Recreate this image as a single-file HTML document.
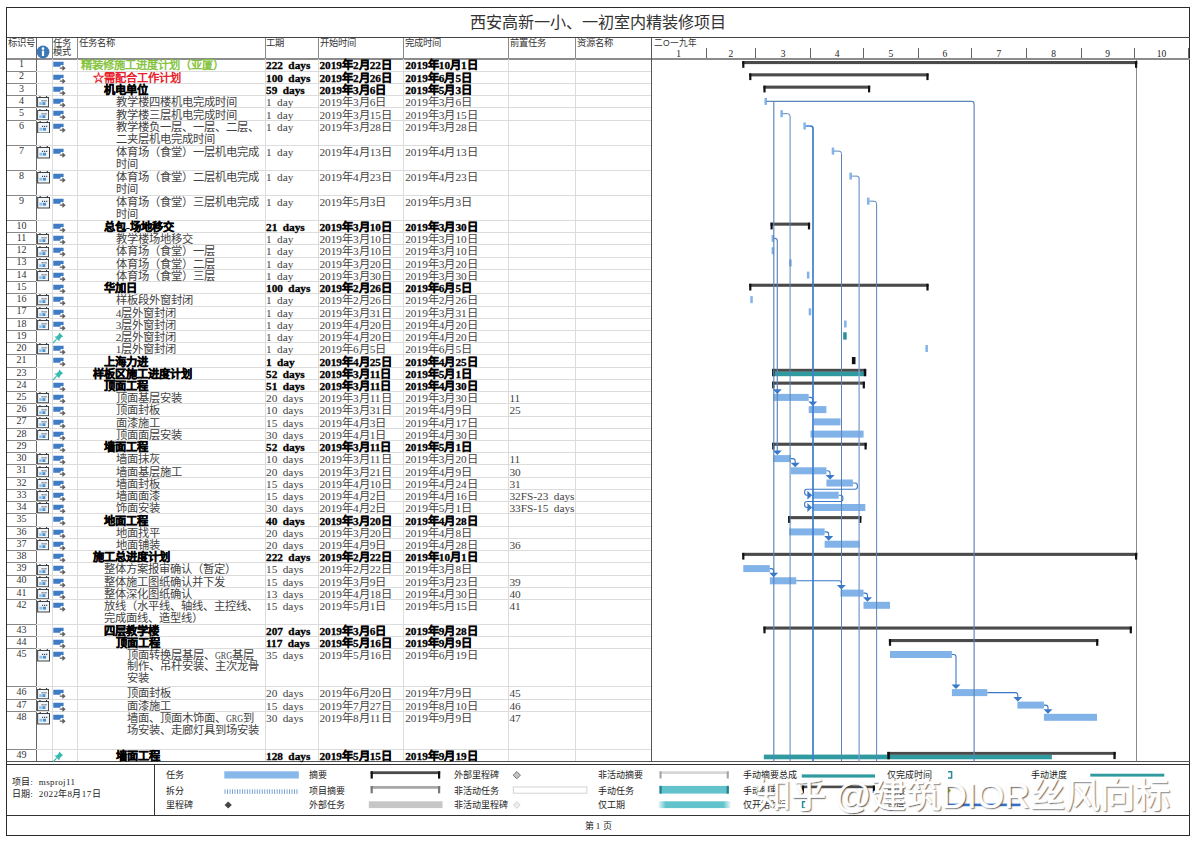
<!DOCTYPE html>
<html lang="zh-CN"><head><meta charset="utf-8"><title>西安高新一小、一初室内精装修项目</title>
<style>
html,body{margin:0;padding:0;background:#fff;}
body{width:1198px;height:845px;position:relative;overflow:hidden;font-family:"Liberation Serif",serif;color:#222;}
.a{position:absolute;}
.t{position:absolute;white-space:nowrap;font-size:11.3px;line-height:12.3px;color:#424242;word-spacing:2.6px;}
.cn{display:inline-block;width:17px;transform:scaleX(0.72);transform-origin:0 50%;}
.b{font-weight:bold;color:#000;-webkit-text-stroke:0.3px #000;}
.g{font-weight:bold;color:#86c440;}
.r{font-weight:bold;color:#e8202a;}
.h{position:absolute;white-space:nowrap;font-size:9.3px;line-height:9.2px;color:#333;}
.id{position:absolute;left:7px;width:29px;text-align:center;font-size:10px;line-height:12px;color:#333;}
.lg{position:absolute;white-space:nowrap;font-size:9px;line-height:10px;color:#222;}
.hl{position:absolute;background:#dcdcdc;height:1px;}
.vl{position:absolute;background:#dcdcdc;width:1px;}
</style></head><body>

<div class="a" style="left:5.7px;top:6.7px;width:1184.3999999999999px;height:828.9000000000001px;border:1.6px solid #2a2a2a;box-sizing:border-box;"></div>
<div class="a" style="left:0;width:1196px;top:14px;text-align:center;font-size:16.1px;line-height:18px;color:#333;">西安高新一小、一初室内精装修项目</div>
<div class="a" style="left:6.7px;top:37.0px;width:1183.8px;height:1.3px;background:#444;"></div>
<div class="a" style="left:6.7px;top:58.0px;width:1183.8px;height:1.5px;background:#8c8c8c;"></div>
<div class="a" style="left:6.7px;top:761.0px;width:1183.8px;height:1.2px;background:#555;"></div>
<div class="a" style="left:6.7px;top:764.0px;width:1183.8px;height:1.3px;background:#333;"></div>
<div class="a" style="left:6.7px;top:815.0px;width:1183.8px;height:1.3px;background:#333;"></div>
<div class="a" style="left:154.2px;top:764.6px;width:1.2px;height:51.0px;background:#333;"></div>
<div class="a" style="left:51.6px;top:37.6px;width:1px;height:21.199999999999996px;background:#8a8a8a;"></div>
<div class="vl" style="left:51.6px;top:58.8px;height:702.7px;"></div>
<div class="a" style="left:76.9px;top:37.6px;width:1px;height:21.199999999999996px;background:#8a8a8a;"></div>
<div class="vl" style="left:76.9px;top:58.8px;height:702.7px;"></div>
<div class="a" style="left:264.5px;top:37.6px;width:1px;height:21.199999999999996px;background:#8a8a8a;"></div>
<div class="vl" style="left:264.5px;top:58.8px;height:702.7px;"></div>
<div class="a" style="left:317.5px;top:37.6px;width:1px;height:21.199999999999996px;background:#8a8a8a;"></div>
<div class="vl" style="left:317.5px;top:58.8px;height:702.7px;"></div>
<div class="a" style="left:402.8px;top:37.6px;width:1px;height:21.199999999999996px;background:#8a8a8a;"></div>
<div class="vl" style="left:402.8px;top:58.8px;height:702.7px;"></div>
<div class="a" style="left:507.5px;top:37.6px;width:1px;height:21.199999999999996px;background:#8a8a8a;"></div>
<div class="vl" style="left:507.5px;top:58.8px;height:702.7px;"></div>
<div class="a" style="left:574.9px;top:37.6px;width:1px;height:21.199999999999996px;background:#8a8a8a;"></div>
<div class="vl" style="left:574.9px;top:58.8px;height:702.7px;"></div>
<div class="a" style="left:35.8px;top:37.6px;width:1.2px;height:723.9px;background:#666;"></div>
<div class="a" style="left:650.8px;top:37.6px;width:1.3px;height:723.9px;background:#555;"></div>
<div class="hl" style="left:36.4px;top:70.58px;width:615.0px;"></div>
<div class="a" style="left:6.7px;top:70.58px;width:29.7px;height:1px;background:#888;"></div>
<div class="hl" style="left:36.4px;top:82.86px;width:615.0px;"></div>
<div class="a" style="left:6.7px;top:82.86px;width:29.7px;height:1px;background:#888;"></div>
<div class="hl" style="left:36.4px;top:95.14px;width:615.0px;"></div>
<div class="a" style="left:6.7px;top:95.14px;width:29.7px;height:1px;background:#888;"></div>
<div class="hl" style="left:36.4px;top:107.42px;width:615.0px;"></div>
<div class="a" style="left:6.7px;top:107.42px;width:29.7px;height:1px;background:#888;"></div>
<div class="hl" style="left:36.4px;top:119.70px;width:615.0px;"></div>
<div class="a" style="left:6.7px;top:119.70px;width:29.7px;height:1px;background:#888;"></div>
<div class="hl" style="left:36.4px;top:144.75px;width:615.0px;"></div>
<div class="a" style="left:6.7px;top:144.75px;width:29.7px;height:1px;background:#888;"></div>
<div class="hl" style="left:36.4px;top:169.80px;width:615.0px;"></div>
<div class="a" style="left:6.7px;top:169.80px;width:29.7px;height:1px;background:#888;"></div>
<div class="hl" style="left:36.4px;top:194.85px;width:615.0px;"></div>
<div class="a" style="left:6.7px;top:194.85px;width:29.7px;height:1px;background:#888;"></div>
<div class="hl" style="left:36.4px;top:219.90px;width:615.0px;"></div>
<div class="a" style="left:6.7px;top:219.90px;width:29.7px;height:1px;background:#888;"></div>
<div class="hl" style="left:36.4px;top:232.13px;width:615.0px;"></div>
<div class="a" style="left:6.7px;top:232.13px;width:29.7px;height:1px;background:#888;"></div>
<div class="hl" style="left:36.4px;top:244.36px;width:615.0px;"></div>
<div class="a" style="left:6.7px;top:244.36px;width:29.7px;height:1px;background:#888;"></div>
<div class="hl" style="left:36.4px;top:256.59px;width:615.0px;"></div>
<div class="a" style="left:6.7px;top:256.59px;width:29.7px;height:1px;background:#888;"></div>
<div class="hl" style="left:36.4px;top:268.82px;width:615.0px;"></div>
<div class="a" style="left:6.7px;top:268.82px;width:29.7px;height:1px;background:#888;"></div>
<div class="hl" style="left:36.4px;top:281.05px;width:615.0px;"></div>
<div class="a" style="left:6.7px;top:281.05px;width:29.7px;height:1px;background:#888;"></div>
<div class="hl" style="left:36.4px;top:293.27px;width:615.0px;"></div>
<div class="a" style="left:6.7px;top:293.27px;width:29.7px;height:1px;background:#888;"></div>
<div class="hl" style="left:36.4px;top:305.50px;width:615.0px;"></div>
<div class="a" style="left:6.7px;top:305.50px;width:29.7px;height:1px;background:#888;"></div>
<div class="hl" style="left:36.4px;top:317.73px;width:615.0px;"></div>
<div class="a" style="left:6.7px;top:317.73px;width:29.7px;height:1px;background:#888;"></div>
<div class="hl" style="left:36.4px;top:329.96px;width:615.0px;"></div>
<div class="a" style="left:6.7px;top:329.96px;width:29.7px;height:1px;background:#888;"></div>
<div class="hl" style="left:36.4px;top:342.19px;width:615.0px;"></div>
<div class="a" style="left:6.7px;top:342.19px;width:29.7px;height:1px;background:#888;"></div>
<div class="hl" style="left:36.4px;top:354.42px;width:615.0px;"></div>
<div class="a" style="left:6.7px;top:354.42px;width:29.7px;height:1px;background:#888;"></div>
<div class="hl" style="left:36.4px;top:366.65px;width:615.0px;"></div>
<div class="a" style="left:6.7px;top:366.65px;width:29.7px;height:1px;background:#888;"></div>
<div class="hl" style="left:36.4px;top:378.88px;width:615.0px;"></div>
<div class="a" style="left:6.7px;top:378.88px;width:29.7px;height:1px;background:#888;"></div>
<div class="hl" style="left:36.4px;top:391.11px;width:615.0px;"></div>
<div class="a" style="left:6.7px;top:391.11px;width:29.7px;height:1px;background:#888;"></div>
<div class="hl" style="left:36.4px;top:403.34px;width:615.0px;"></div>
<div class="a" style="left:6.7px;top:403.34px;width:29.7px;height:1px;background:#888;"></div>
<div class="hl" style="left:36.4px;top:415.56px;width:615.0px;"></div>
<div class="a" style="left:6.7px;top:415.56px;width:29.7px;height:1px;background:#888;"></div>
<div class="hl" style="left:36.4px;top:427.79px;width:615.0px;"></div>
<div class="a" style="left:6.7px;top:427.79px;width:29.7px;height:1px;background:#888;"></div>
<div class="hl" style="left:36.4px;top:440.02px;width:615.0px;"></div>
<div class="a" style="left:6.7px;top:440.02px;width:29.7px;height:1px;background:#888;"></div>
<div class="hl" style="left:36.4px;top:452.25px;width:615.0px;"></div>
<div class="a" style="left:6.7px;top:452.25px;width:29.7px;height:1px;background:#888;"></div>
<div class="hl" style="left:36.4px;top:464.48px;width:615.0px;"></div>
<div class="a" style="left:6.7px;top:464.48px;width:29.7px;height:1px;background:#888;"></div>
<div class="hl" style="left:36.4px;top:476.71px;width:615.0px;"></div>
<div class="a" style="left:6.7px;top:476.71px;width:29.7px;height:1px;background:#888;"></div>
<div class="hl" style="left:36.4px;top:488.94px;width:615.0px;"></div>
<div class="a" style="left:6.7px;top:488.94px;width:29.7px;height:1px;background:#888;"></div>
<div class="hl" style="left:36.4px;top:501.17px;width:615.0px;"></div>
<div class="a" style="left:6.7px;top:501.17px;width:29.7px;height:1px;background:#888;"></div>
<div class="hl" style="left:36.4px;top:513.40px;width:615.0px;"></div>
<div class="a" style="left:6.7px;top:513.40px;width:29.7px;height:1px;background:#888;"></div>
<div class="hl" style="left:36.4px;top:525.63px;width:615.0px;"></div>
<div class="a" style="left:6.7px;top:525.63px;width:29.7px;height:1px;background:#888;"></div>
<div class="hl" style="left:36.4px;top:537.85px;width:615.0px;"></div>
<div class="a" style="left:6.7px;top:537.85px;width:29.7px;height:1px;background:#888;"></div>
<div class="hl" style="left:36.4px;top:550.08px;width:615.0px;"></div>
<div class="a" style="left:6.7px;top:550.08px;width:29.7px;height:1px;background:#888;"></div>
<div class="hl" style="left:36.4px;top:562.31px;width:615.0px;"></div>
<div class="a" style="left:6.7px;top:562.31px;width:29.7px;height:1px;background:#888;"></div>
<div class="hl" style="left:36.4px;top:574.54px;width:615.0px;"></div>
<div class="a" style="left:6.7px;top:574.54px;width:29.7px;height:1px;background:#888;"></div>
<div class="hl" style="left:36.4px;top:586.77px;width:615.0px;"></div>
<div class="a" style="left:6.7px;top:586.77px;width:29.7px;height:1px;background:#888;"></div>
<div class="hl" style="left:36.4px;top:599.00px;width:615.0px;"></div>
<div class="a" style="left:6.7px;top:599.00px;width:29.7px;height:1px;background:#888;"></div>
<div class="hl" style="left:36.4px;top:623.80px;width:615.0px;"></div>
<div class="a" style="left:6.7px;top:623.80px;width:29.7px;height:1px;background:#888;"></div>
<div class="hl" style="left:36.4px;top:636.30px;width:615.0px;"></div>
<div class="a" style="left:6.7px;top:636.30px;width:29.7px;height:1px;background:#888;"></div>
<div class="hl" style="left:36.4px;top:648.25px;width:615.0px;"></div>
<div class="a" style="left:6.7px;top:648.25px;width:29.7px;height:1px;background:#888;"></div>
<div class="hl" style="left:36.4px;top:686.30px;width:615.0px;"></div>
<div class="a" style="left:6.7px;top:686.30px;width:29.7px;height:1px;background:#888;"></div>
<div class="hl" style="left:36.4px;top:698.80px;width:615.0px;"></div>
<div class="a" style="left:6.7px;top:698.80px;width:29.7px;height:1px;background:#888;"></div>
<div class="hl" style="left:36.4px;top:711.00px;width:615.0px;"></div>
<div class="a" style="left:6.7px;top:711.00px;width:29.7px;height:1px;background:#888;"></div>
<div class="hl" style="left:36.4px;top:748.80px;width:615.0px;"></div>
<div class="a" style="left:6.7px;top:748.80px;width:29.7px;height:1px;background:#888;"></div>
<div class="h" style="left:7.5px;top:39px;">标识号</div>
<div class="h" style="left:53px;top:39px;">任务<br>模式</div>
<div class="h" style="left:78.5px;top:39px;">任务名称</div>
<div class="h" style="left:266px;top:39px;">工期</div>
<div class="h" style="left:319.5px;top:39px;">开始时间</div>
<div class="h" style="left:404.8px;top:39px;">完成时间</div>
<div class="h" style="left:509.5px;top:39px;">前置任务</div>
<div class="h" style="left:577px;top:39px;">资源名称</div>
<div class="h" style="left:654px;top:38.5px;font-size:8.6px;font-family:'Liberation Sans',sans-serif;">二O一九年</div>
<svg class="a" style="left:36.2px;top:44.6px;" width="14" height="14" viewBox="0 0 14 14"><circle cx="7" cy="7" r="6.4" fill="#3b78b5"/><circle cx="7" cy="3.6" r="1.3" fill="#fff"/><rect x="5.9" y="5.6" width="2.2" height="5.4" fill="#fff"/></svg>
<div class="a" style="left:705.6px;top:48.3px;width:1px;height:10px;background:#666;"></div>
<div class="a" style="left:755.1px;top:48.3px;width:1px;height:10px;background:#666;"></div>
<div class="a" style="left:810.0px;top:48.3px;width:1px;height:10px;background:#666;"></div>
<div class="a" style="left:863.0px;top:48.3px;width:1px;height:10px;background:#666;"></div>
<div class="a" style="left:917.8px;top:48.3px;width:1px;height:10px;background:#666;"></div>
<div class="a" style="left:970.9px;top:48.3px;width:1px;height:10px;background:#666;"></div>
<div class="a" style="left:1025.7px;top:48.3px;width:1px;height:10px;background:#666;"></div>
<div class="a" style="left:1080.5px;top:48.3px;width:1px;height:10px;background:#666;"></div>
<div class="a" style="left:1133.6px;top:48.3px;width:1px;height:10px;background:#666;"></div>
<div class="a" style="left:1188.4px;top:48.3px;width:1px;height:10px;background:#666;"></div>
<div class="a" style="left:668.7px;top:48.5px;width:20px;text-align:center;font-size:9.5px;line-height:10px;color:#222;">1</div>
<div class="a" style="left:720.9px;top:48.5px;width:20px;text-align:center;font-size:9.5px;line-height:10px;color:#222;">2</div>
<div class="a" style="left:773.0px;top:48.5px;width:20px;text-align:center;font-size:9.5px;line-height:10px;color:#222;">3</div>
<div class="a" style="left:827.0px;top:48.5px;width:20px;text-align:center;font-size:9.5px;line-height:10px;color:#222;">4</div>
<div class="a" style="left:880.9px;top:48.5px;width:20px;text-align:center;font-size:9.5px;line-height:10px;color:#222;">5</div>
<div class="a" style="left:934.9px;top:48.5px;width:20px;text-align:center;font-size:9.5px;line-height:10px;color:#222;">6</div>
<div class="a" style="left:988.8px;top:48.5px;width:20px;text-align:center;font-size:9.5px;line-height:10px;color:#222;">7</div>
<div class="a" style="left:1043.6px;top:48.5px;width:20px;text-align:center;font-size:9.5px;line-height:10px;color:#222;">8</div>
<div class="a" style="left:1097.5px;top:48.5px;width:20px;text-align:center;font-size:9.5px;line-height:10px;color:#222;">9</div>
<div class="a" style="left:1151.5px;top:48.5px;width:20px;text-align:center;font-size:9.5px;line-height:10px;color:#222;">10</div>
<div class="id" style="top:58.20px;">1</div>
<svg class="a" style="left:52.8px;top:61.30px;" width="13" height="10" viewBox="0 0 13 10"><path d="M0.3 0.8 H10.6 V4 H8 L7 5.8 H0.3 Z" fill="#3f7cc4"/><path d="M6.8 6.6 H9.4 V4.3 L12.6 7.2 L9.4 10 V7.8 H6.8 Z" fill="#5e5e5e"/></svg>
<div class="t g" style="left:81px;top:59.40px;">精装修施工进度计划（亚厦）</div>
<div class="t b" style="left:266px;top:59.40px;">222 days</div>
<div class="t b" style="left:319.4px;top:59.40px;">2019年2月22日</div>
<div class="t b" style="left:405.2px;top:59.40px;">2019年10月1日</div>
<div class="id" style="top:70.48px;">2</div>
<svg class="a" style="left:52.8px;top:73.58px;" width="13" height="10" viewBox="0 0 13 10"><path d="M0.3 0.8 H10.6 V4 H8 L7 5.8 H0.3 Z" fill="#3f7cc4"/><path d="M6.8 6.6 H9.4 V4.3 L12.6 7.2 L9.4 10 V7.8 H6.8 Z" fill="#5e5e5e"/></svg>
<div class="t r" style="left:92.5px;top:71.68px;">☆需配合工作计划</div>
<div class="t b" style="left:266px;top:71.68px;">100 days</div>
<div class="t b" style="left:319.4px;top:71.68px;">2019年2月26日</div>
<div class="t b" style="left:405.2px;top:71.68px;">2019年6月5日</div>
<div class="id" style="top:82.76px;">3</div>
<svg class="a" style="left:52.8px;top:85.86px;" width="13" height="10" viewBox="0 0 13 10"><path d="M0.3 0.8 H10.6 V4 H8 L7 5.8 H0.3 Z" fill="#3f7cc4"/><path d="M6.8 6.6 H9.4 V4.3 L12.6 7.2 L9.4 10 V7.8 H6.8 Z" fill="#5e5e5e"/></svg>
<div class="t b" style="left:104px;top:83.96px;">机电单位</div>
<div class="t b" style="left:266px;top:83.96px;">59 days</div>
<div class="t b" style="left:319.4px;top:83.96px;">2019年3月6日</div>
<div class="t b" style="left:405.2px;top:83.96px;">2019年5月3日</div>
<div class="id" style="top:95.04px;">4</div>
<svg class="a" style="left:36.8px;top:96.34px;" width="12.4" height="11.4" viewBox="0 0 12.4 11.4" preserveAspectRatio="none"><rect x="0.6" y="1.5" width="11" height="9.3" fill="#eef6fc" stroke="#3a3a3a" stroke-width="0.95"/><rect x="2.4" y="0" width="1.1" height="2" fill="#3a3a3a"/><rect x="9" y="0" width="1.1" height="2" fill="#3a3a3a"/><rect x="4.6" y="4.3" width="1.1" height="1.1" fill="#334"/><rect x="6.5" y="4.3" width="1.1" height="1.1" fill="#334"/><rect x="8.4" y="4.3" width="1.1" height="1.1" fill="#334"/><rect x="2.2" y="6.2" width="2.6" height="2.8" fill="#8fc0e6"/><rect x="5.4" y="6.2" width="3" height="2.8" fill="#4a8fd0"/></svg>
<svg class="a" style="left:52.8px;top:98.14px;" width="13" height="10" viewBox="0 0 13 10"><path d="M0.3 0.8 H10.6 V4 H8 L7 5.8 H0.3 Z" fill="#3f7cc4"/><path d="M6.8 6.6 H9.4 V4.3 L12.6 7.2 L9.4 10 V7.8 H6.8 Z" fill="#5e5e5e"/></svg>
<div class="t" style="left:115.7px;top:96.24px;">教学楼四楼机电完成时间</div>
<div class="t" style="left:266px;top:96.24px;">1 day</div>
<div class="t" style="left:319.4px;top:96.24px;">2019年3月6日</div>
<div class="t" style="left:405.2px;top:96.24px;">2019年3月6日</div>
<div class="id" style="top:107.32px;">5</div>
<svg class="a" style="left:36.8px;top:108.62px;" width="12.4" height="11.4" viewBox="0 0 12.4 11.4" preserveAspectRatio="none"><rect x="0.6" y="1.5" width="11" height="9.3" fill="#eef6fc" stroke="#3a3a3a" stroke-width="0.95"/><rect x="2.4" y="0" width="1.1" height="2" fill="#3a3a3a"/><rect x="9" y="0" width="1.1" height="2" fill="#3a3a3a"/><rect x="4.6" y="4.3" width="1.1" height="1.1" fill="#334"/><rect x="6.5" y="4.3" width="1.1" height="1.1" fill="#334"/><rect x="8.4" y="4.3" width="1.1" height="1.1" fill="#334"/><rect x="2.2" y="6.2" width="2.6" height="2.8" fill="#8fc0e6"/><rect x="5.4" y="6.2" width="3" height="2.8" fill="#4a8fd0"/></svg>
<svg class="a" style="left:52.8px;top:110.42px;" width="13" height="10" viewBox="0 0 13 10"><path d="M0.3 0.8 H10.6 V4 H8 L7 5.8 H0.3 Z" fill="#3f7cc4"/><path d="M6.8 6.6 H9.4 V4.3 L12.6 7.2 L9.4 10 V7.8 H6.8 Z" fill="#5e5e5e"/></svg>
<div class="t" style="left:115.7px;top:108.52px;">教学楼三层机电完成时间</div>
<div class="t" style="left:266px;top:108.52px;">1 day</div>
<div class="t" style="left:319.4px;top:108.52px;">2019年3月15日</div>
<div class="t" style="left:405.2px;top:108.52px;">2019年3月15日</div>
<div class="id" style="top:119.60px;">6</div>
<svg class="a" style="left:36.8px;top:120.90px;" width="13.4" height="12.6" viewBox="0 0 12.4 12.6" preserveAspectRatio="none"><rect x="0.6" y="1.5" width="11" height="10.5" fill="#eef6fc" stroke="#3a3a3a" stroke-width="0.95"/><rect x="2.4" y="0" width="1.1" height="2" fill="#3a3a3a"/><rect x="9" y="0" width="1.1" height="2" fill="#3a3a3a"/><rect x="4.6" y="4.8" width="1.1" height="1.1" fill="#334"/><rect x="6.5" y="4.8" width="1.1" height="1.1" fill="#334"/><rect x="8.4" y="4.8" width="1.1" height="1.1" fill="#334"/><rect x="2.2" y="6.8" width="2.6" height="2.8" fill="#8fc0e6"/><rect x="5.4" y="6.8" width="3" height="2.8" fill="#4a8fd0"/></svg>
<svg class="a" style="left:52.8px;top:122.70px;" width="13" height="10" viewBox="0 0 13 10"><path d="M0.3 0.8 H10.6 V4 H8 L7 5.8 H0.3 Z" fill="#3f7cc4"/><path d="M6.8 6.6 H9.4 V4.3 L12.6 7.2 L9.4 10 V7.8 H6.8 Z" fill="#5e5e5e"/></svg>
<div class="t" style="left:115.7px;top:120.80px;">教学楼负一层、一层、二层、<br>二夹层机电完成时间</div>
<div class="t" style="left:266px;top:120.80px;">1 day</div>
<div class="t" style="left:319.4px;top:120.80px;">2019年3月28日</div>
<div class="t" style="left:405.2px;top:120.80px;">2019年3月28日</div>
<div class="id" style="top:144.65px;">7</div>
<svg class="a" style="left:36.8px;top:145.95px;" width="13.4" height="12.6" viewBox="0 0 12.4 12.6" preserveAspectRatio="none"><rect x="0.6" y="1.5" width="11" height="10.5" fill="#eef6fc" stroke="#3a3a3a" stroke-width="0.95"/><rect x="2.4" y="0" width="1.1" height="2" fill="#3a3a3a"/><rect x="9" y="0" width="1.1" height="2" fill="#3a3a3a"/><rect x="4.6" y="4.8" width="1.1" height="1.1" fill="#334"/><rect x="6.5" y="4.8" width="1.1" height="1.1" fill="#334"/><rect x="8.4" y="4.8" width="1.1" height="1.1" fill="#334"/><rect x="2.2" y="6.8" width="2.6" height="2.8" fill="#8fc0e6"/><rect x="5.4" y="6.8" width="3" height="2.8" fill="#4a8fd0"/></svg>
<svg class="a" style="left:52.8px;top:147.75px;" width="13" height="10" viewBox="0 0 13 10"><path d="M0.3 0.8 H10.6 V4 H8 L7 5.8 H0.3 Z" fill="#3f7cc4"/><path d="M6.8 6.6 H9.4 V4.3 L12.6 7.2 L9.4 10 V7.8 H6.8 Z" fill="#5e5e5e"/></svg>
<div class="t" style="left:115.7px;top:145.85px;">体育场（食堂）一层机电完成<br>时间</div>
<div class="t" style="left:266px;top:145.85px;">1 day</div>
<div class="t" style="left:319.4px;top:145.85px;">2019年4月13日</div>
<div class="t" style="left:405.2px;top:145.85px;">2019年4月13日</div>
<div class="id" style="top:169.70px;">8</div>
<svg class="a" style="left:36.8px;top:171.00px;" width="13.4" height="12.6" viewBox="0 0 12.4 12.6" preserveAspectRatio="none"><rect x="0.6" y="1.5" width="11" height="10.5" fill="#eef6fc" stroke="#3a3a3a" stroke-width="0.95"/><rect x="2.4" y="0" width="1.1" height="2" fill="#3a3a3a"/><rect x="9" y="0" width="1.1" height="2" fill="#3a3a3a"/><rect x="4.6" y="4.8" width="1.1" height="1.1" fill="#334"/><rect x="6.5" y="4.8" width="1.1" height="1.1" fill="#334"/><rect x="8.4" y="4.8" width="1.1" height="1.1" fill="#334"/><rect x="2.2" y="6.8" width="2.6" height="2.8" fill="#8fc0e6"/><rect x="5.4" y="6.8" width="3" height="2.8" fill="#4a8fd0"/></svg>
<svg class="a" style="left:52.8px;top:172.80px;" width="13" height="10" viewBox="0 0 13 10"><path d="M0.3 0.8 H10.6 V4 H8 L7 5.8 H0.3 Z" fill="#3f7cc4"/><path d="M6.8 6.6 H9.4 V4.3 L12.6 7.2 L9.4 10 V7.8 H6.8 Z" fill="#5e5e5e"/></svg>
<div class="t" style="left:115.7px;top:170.90px;">体育场（食堂）二层机电完成<br>时间</div>
<div class="t" style="left:266px;top:170.90px;">1 day</div>
<div class="t" style="left:319.4px;top:170.90px;">2019年4月23日</div>
<div class="t" style="left:405.2px;top:170.90px;">2019年4月23日</div>
<div class="id" style="top:194.75px;">9</div>
<svg class="a" style="left:36.8px;top:196.05px;" width="13.4" height="12.6" viewBox="0 0 12.4 12.6" preserveAspectRatio="none"><rect x="0.6" y="1.5" width="11" height="10.5" fill="#eef6fc" stroke="#3a3a3a" stroke-width="0.95"/><rect x="2.4" y="0" width="1.1" height="2" fill="#3a3a3a"/><rect x="9" y="0" width="1.1" height="2" fill="#3a3a3a"/><rect x="4.6" y="4.8" width="1.1" height="1.1" fill="#334"/><rect x="6.5" y="4.8" width="1.1" height="1.1" fill="#334"/><rect x="8.4" y="4.8" width="1.1" height="1.1" fill="#334"/><rect x="2.2" y="6.8" width="2.6" height="2.8" fill="#8fc0e6"/><rect x="5.4" y="6.8" width="3" height="2.8" fill="#4a8fd0"/></svg>
<svg class="a" style="left:52.8px;top:197.85px;" width="13" height="10" viewBox="0 0 13 10"><path d="M0.3 0.8 H10.6 V4 H8 L7 5.8 H0.3 Z" fill="#3f7cc4"/><path d="M6.8 6.6 H9.4 V4.3 L12.6 7.2 L9.4 10 V7.8 H6.8 Z" fill="#5e5e5e"/></svg>
<div class="t" style="left:115.7px;top:195.95px;">体育场（食堂）三层机电完成<br>时间</div>
<div class="t" style="left:266px;top:195.95px;">1 day</div>
<div class="t" style="left:319.4px;top:195.95px;">2019年5月3日</div>
<div class="t" style="left:405.2px;top:195.95px;">2019年5月3日</div>
<div class="id" style="top:219.80px;">10</div>
<svg class="a" style="left:52.8px;top:222.90px;" width="13" height="10" viewBox="0 0 13 10"><path d="M0.3 0.8 H10.6 V4 H8 L7 5.8 H0.3 Z" fill="#3f7cc4"/><path d="M6.8 6.6 H9.4 V4.3 L12.6 7.2 L9.4 10 V7.8 H6.8 Z" fill="#5e5e5e"/></svg>
<div class="t b" style="left:104px;top:221.00px;">总包-场地移交</div>
<div class="t b" style="left:266px;top:221.00px;">21 days</div>
<div class="t b" style="left:319.4px;top:221.00px;">2019年3月10日</div>
<div class="t b" style="left:405.2px;top:221.00px;">2019年3月30日</div>
<div class="id" style="top:232.03px;">11</div>
<svg class="a" style="left:36.8px;top:233.33px;" width="12.4" height="11.4" viewBox="0 0 12.4 11.4" preserveAspectRatio="none"><rect x="0.6" y="1.5" width="11" height="9.3" fill="#eef6fc" stroke="#3a3a3a" stroke-width="0.95"/><rect x="2.4" y="0" width="1.1" height="2" fill="#3a3a3a"/><rect x="9" y="0" width="1.1" height="2" fill="#3a3a3a"/><rect x="4.6" y="4.3" width="1.1" height="1.1" fill="#334"/><rect x="6.5" y="4.3" width="1.1" height="1.1" fill="#334"/><rect x="8.4" y="4.3" width="1.1" height="1.1" fill="#334"/><rect x="2.2" y="6.2" width="2.6" height="2.8" fill="#8fc0e6"/><rect x="5.4" y="6.2" width="3" height="2.8" fill="#4a8fd0"/></svg>
<svg class="a" style="left:52.8px;top:235.13px;" width="13" height="10" viewBox="0 0 13 10"><path d="M0.3 0.8 H10.6 V4 H8 L7 5.8 H0.3 Z" fill="#3f7cc4"/><path d="M6.8 6.6 H9.4 V4.3 L12.6 7.2 L9.4 10 V7.8 H6.8 Z" fill="#5e5e5e"/></svg>
<div class="t" style="left:115.7px;top:233.23px;">教学楼场地移交</div>
<div class="t" style="left:266px;top:233.23px;">1 day</div>
<div class="t" style="left:319.4px;top:233.23px;">2019年3月10日</div>
<div class="t" style="left:405.2px;top:233.23px;">2019年3月10日</div>
<div class="id" style="top:244.26px;">12</div>
<svg class="a" style="left:36.8px;top:245.56px;" width="12.4" height="11.4" viewBox="0 0 12.4 11.4" preserveAspectRatio="none"><rect x="0.6" y="1.5" width="11" height="9.3" fill="#eef6fc" stroke="#3a3a3a" stroke-width="0.95"/><rect x="2.4" y="0" width="1.1" height="2" fill="#3a3a3a"/><rect x="9" y="0" width="1.1" height="2" fill="#3a3a3a"/><rect x="4.6" y="4.3" width="1.1" height="1.1" fill="#334"/><rect x="6.5" y="4.3" width="1.1" height="1.1" fill="#334"/><rect x="8.4" y="4.3" width="1.1" height="1.1" fill="#334"/><rect x="2.2" y="6.2" width="2.6" height="2.8" fill="#8fc0e6"/><rect x="5.4" y="6.2" width="3" height="2.8" fill="#4a8fd0"/></svg>
<svg class="a" style="left:52.8px;top:247.36px;" width="13" height="10" viewBox="0 0 13 10"><path d="M0.3 0.8 H10.6 V4 H8 L7 5.8 H0.3 Z" fill="#3f7cc4"/><path d="M6.8 6.6 H9.4 V4.3 L12.6 7.2 L9.4 10 V7.8 H6.8 Z" fill="#5e5e5e"/></svg>
<div class="t" style="left:115.7px;top:245.46px;">体育场（食堂）一层</div>
<div class="t" style="left:266px;top:245.46px;">1 day</div>
<div class="t" style="left:319.4px;top:245.46px;">2019年3月10日</div>
<div class="t" style="left:405.2px;top:245.46px;">2019年3月10日</div>
<div class="id" style="top:256.49px;">13</div>
<svg class="a" style="left:36.8px;top:257.79px;" width="12.4" height="11.4" viewBox="0 0 12.4 11.4" preserveAspectRatio="none"><rect x="0.6" y="1.5" width="11" height="9.3" fill="#eef6fc" stroke="#3a3a3a" stroke-width="0.95"/><rect x="2.4" y="0" width="1.1" height="2" fill="#3a3a3a"/><rect x="9" y="0" width="1.1" height="2" fill="#3a3a3a"/><rect x="4.6" y="4.3" width="1.1" height="1.1" fill="#334"/><rect x="6.5" y="4.3" width="1.1" height="1.1" fill="#334"/><rect x="8.4" y="4.3" width="1.1" height="1.1" fill="#334"/><rect x="2.2" y="6.2" width="2.6" height="2.8" fill="#8fc0e6"/><rect x="5.4" y="6.2" width="3" height="2.8" fill="#4a8fd0"/></svg>
<svg class="a" style="left:52.8px;top:259.59px;" width="13" height="10" viewBox="0 0 13 10"><path d="M0.3 0.8 H10.6 V4 H8 L7 5.8 H0.3 Z" fill="#3f7cc4"/><path d="M6.8 6.6 H9.4 V4.3 L12.6 7.2 L9.4 10 V7.8 H6.8 Z" fill="#5e5e5e"/></svg>
<div class="t" style="left:115.7px;top:257.69px;">体育场（食堂）二层</div>
<div class="t" style="left:266px;top:257.69px;">1 day</div>
<div class="t" style="left:319.4px;top:257.69px;">2019年3月20日</div>
<div class="t" style="left:405.2px;top:257.69px;">2019年3月20日</div>
<div class="id" style="top:268.72px;">14</div>
<svg class="a" style="left:36.8px;top:270.02px;" width="12.4" height="11.4" viewBox="0 0 12.4 11.4" preserveAspectRatio="none"><rect x="0.6" y="1.5" width="11" height="9.3" fill="#eef6fc" stroke="#3a3a3a" stroke-width="0.95"/><rect x="2.4" y="0" width="1.1" height="2" fill="#3a3a3a"/><rect x="9" y="0" width="1.1" height="2" fill="#3a3a3a"/><rect x="4.6" y="4.3" width="1.1" height="1.1" fill="#334"/><rect x="6.5" y="4.3" width="1.1" height="1.1" fill="#334"/><rect x="8.4" y="4.3" width="1.1" height="1.1" fill="#334"/><rect x="2.2" y="6.2" width="2.6" height="2.8" fill="#8fc0e6"/><rect x="5.4" y="6.2" width="3" height="2.8" fill="#4a8fd0"/></svg>
<svg class="a" style="left:52.8px;top:271.82px;" width="13" height="10" viewBox="0 0 13 10"><path d="M0.3 0.8 H10.6 V4 H8 L7 5.8 H0.3 Z" fill="#3f7cc4"/><path d="M6.8 6.6 H9.4 V4.3 L12.6 7.2 L9.4 10 V7.8 H6.8 Z" fill="#5e5e5e"/></svg>
<div class="t" style="left:115.7px;top:269.92px;">体育场（食堂）三层</div>
<div class="t" style="left:266px;top:269.92px;">1 day</div>
<div class="t" style="left:319.4px;top:269.92px;">2019年3月30日</div>
<div class="t" style="left:405.2px;top:269.92px;">2019年3月30日</div>
<div class="id" style="top:280.95px;">15</div>
<svg class="a" style="left:52.8px;top:284.05px;" width="13" height="10" viewBox="0 0 13 10"><path d="M0.3 0.8 H10.6 V4 H8 L7 5.8 H0.3 Z" fill="#3f7cc4"/><path d="M6.8 6.6 H9.4 V4.3 L12.6 7.2 L9.4 10 V7.8 H6.8 Z" fill="#5e5e5e"/></svg>
<div class="t b" style="left:104px;top:282.15px;">华加日</div>
<div class="t b" style="left:266px;top:282.15px;">100 days</div>
<div class="t b" style="left:319.4px;top:282.15px;">2019年2月26日</div>
<div class="t b" style="left:405.2px;top:282.15px;">2019年6月5日</div>
<div class="id" style="top:293.17px;">16</div>
<svg class="a" style="left:36.8px;top:294.47px;" width="12.4" height="11.4" viewBox="0 0 12.4 11.4" preserveAspectRatio="none"><rect x="0.6" y="1.5" width="11" height="9.3" fill="#eef6fc" stroke="#3a3a3a" stroke-width="0.95"/><rect x="2.4" y="0" width="1.1" height="2" fill="#3a3a3a"/><rect x="9" y="0" width="1.1" height="2" fill="#3a3a3a"/><rect x="4.6" y="4.3" width="1.1" height="1.1" fill="#334"/><rect x="6.5" y="4.3" width="1.1" height="1.1" fill="#334"/><rect x="8.4" y="4.3" width="1.1" height="1.1" fill="#334"/><rect x="2.2" y="6.2" width="2.6" height="2.8" fill="#8fc0e6"/><rect x="5.4" y="6.2" width="3" height="2.8" fill="#4a8fd0"/></svg>
<svg class="a" style="left:52.8px;top:296.27px;" width="13" height="10" viewBox="0 0 13 10"><path d="M0.3 0.8 H10.6 V4 H8 L7 5.8 H0.3 Z" fill="#3f7cc4"/><path d="M6.8 6.6 H9.4 V4.3 L12.6 7.2 L9.4 10 V7.8 H6.8 Z" fill="#5e5e5e"/></svg>
<div class="t" style="left:115.7px;top:294.37px;">样板段外窗封闭</div>
<div class="t" style="left:266px;top:294.37px;">1 day</div>
<div class="t" style="left:319.4px;top:294.37px;">2019年2月26日</div>
<div class="t" style="left:405.2px;top:294.37px;">2019年2月26日</div>
<div class="id" style="top:305.40px;">17</div>
<svg class="a" style="left:36.8px;top:306.70px;" width="12.4" height="11.4" viewBox="0 0 12.4 11.4" preserveAspectRatio="none"><rect x="0.6" y="1.5" width="11" height="9.3" fill="#eef6fc" stroke="#3a3a3a" stroke-width="0.95"/><rect x="2.4" y="0" width="1.1" height="2" fill="#3a3a3a"/><rect x="9" y="0" width="1.1" height="2" fill="#3a3a3a"/><rect x="4.6" y="4.3" width="1.1" height="1.1" fill="#334"/><rect x="6.5" y="4.3" width="1.1" height="1.1" fill="#334"/><rect x="8.4" y="4.3" width="1.1" height="1.1" fill="#334"/><rect x="2.2" y="6.2" width="2.6" height="2.8" fill="#8fc0e6"/><rect x="5.4" y="6.2" width="3" height="2.8" fill="#4a8fd0"/></svg>
<svg class="a" style="left:52.8px;top:308.50px;" width="13" height="10" viewBox="0 0 13 10"><path d="M0.3 0.8 H10.6 V4 H8 L7 5.8 H0.3 Z" fill="#3f7cc4"/><path d="M6.8 6.6 H9.4 V4.3 L12.6 7.2 L9.4 10 V7.8 H6.8 Z" fill="#5e5e5e"/></svg>
<div class="t" style="left:115.7px;top:306.60px;">4层外窗封闭</div>
<div class="t" style="left:266px;top:306.60px;">1 day</div>
<div class="t" style="left:319.4px;top:306.60px;">2019年3月31日</div>
<div class="t" style="left:405.2px;top:306.60px;">2019年3月31日</div>
<div class="id" style="top:317.63px;">18</div>
<svg class="a" style="left:36.8px;top:318.93px;" width="12.4" height="11.4" viewBox="0 0 12.4 11.4" preserveAspectRatio="none"><rect x="0.6" y="1.5" width="11" height="9.3" fill="#eef6fc" stroke="#3a3a3a" stroke-width="0.95"/><rect x="2.4" y="0" width="1.1" height="2" fill="#3a3a3a"/><rect x="9" y="0" width="1.1" height="2" fill="#3a3a3a"/><rect x="4.6" y="4.3" width="1.1" height="1.1" fill="#334"/><rect x="6.5" y="4.3" width="1.1" height="1.1" fill="#334"/><rect x="8.4" y="4.3" width="1.1" height="1.1" fill="#334"/><rect x="2.2" y="6.2" width="2.6" height="2.8" fill="#8fc0e6"/><rect x="5.4" y="6.2" width="3" height="2.8" fill="#4a8fd0"/></svg>
<svg class="a" style="left:52.8px;top:320.73px;" width="13" height="10" viewBox="0 0 13 10"><path d="M0.3 0.8 H10.6 V4 H8 L7 5.8 H0.3 Z" fill="#3f7cc4"/><path d="M6.8 6.6 H9.4 V4.3 L12.6 7.2 L9.4 10 V7.8 H6.8 Z" fill="#5e5e5e"/></svg>
<div class="t" style="left:115.7px;top:318.83px;">3层外窗封闭</div>
<div class="t" style="left:266px;top:318.83px;">1 day</div>
<div class="t" style="left:319.4px;top:318.83px;">2019年4月20日</div>
<div class="t" style="left:405.2px;top:318.83px;">2019年4月20日</div>
<div class="id" style="top:329.86px;">19</div>
<svg class="a" style="left:52.3px;top:331.86px;" width="12" height="12" viewBox="0 0 12 12"><path d="M7.2 0.6 L11.2 4.6 L9.8 5 L7.6 7.4 L7.4 9.6 L2.4 4.4 L4.6 4.4 L6.8 2.2 Z" fill="#38b9b2"/><path d="M4.6 7.2 L1 11" stroke="#38b9b2" stroke-width="1.2"/></svg>
<div class="t" style="left:115.7px;top:331.06px;">2层外窗封闭</div>
<div class="t" style="left:266px;top:331.06px;">1 day</div>
<div class="t" style="left:319.4px;top:331.06px;">2019年4月20日</div>
<div class="t" style="left:405.2px;top:331.06px;">2019年4月20日</div>
<div class="id" style="top:342.09px;">20</div>
<svg class="a" style="left:36.8px;top:343.39px;" width="12.4" height="11.4" viewBox="0 0 12.4 11.4" preserveAspectRatio="none"><rect x="0.6" y="1.5" width="11" height="9.3" fill="#eef6fc" stroke="#3a3a3a" stroke-width="0.95"/><rect x="2.4" y="0" width="1.1" height="2" fill="#3a3a3a"/><rect x="9" y="0" width="1.1" height="2" fill="#3a3a3a"/><rect x="4.6" y="4.3" width="1.1" height="1.1" fill="#334"/><rect x="6.5" y="4.3" width="1.1" height="1.1" fill="#334"/><rect x="8.4" y="4.3" width="1.1" height="1.1" fill="#334"/><rect x="2.2" y="6.2" width="2.6" height="2.8" fill="#8fc0e6"/><rect x="5.4" y="6.2" width="3" height="2.8" fill="#4a8fd0"/></svg>
<svg class="a" style="left:52.8px;top:345.19px;" width="13" height="10" viewBox="0 0 13 10"><path d="M0.3 0.8 H10.6 V4 H8 L7 5.8 H0.3 Z" fill="#3f7cc4"/><path d="M6.8 6.6 H9.4 V4.3 L12.6 7.2 L9.4 10 V7.8 H6.8 Z" fill="#5e5e5e"/></svg>
<div class="t" style="left:115.7px;top:343.29px;">1层外窗封闭</div>
<div class="t" style="left:266px;top:343.29px;">1 day</div>
<div class="t" style="left:319.4px;top:343.29px;">2019年6月5日</div>
<div class="t" style="left:405.2px;top:343.29px;">2019年6月5日</div>
<div class="id" style="top:354.32px;">21</div>
<svg class="a" style="left:52.8px;top:357.42px;" width="13" height="10" viewBox="0 0 13 10"><path d="M0.3 0.8 H10.6 V4 H8 L7 5.8 H0.3 Z" fill="#3f7cc4"/><path d="M6.8 6.6 H9.4 V4.3 L12.6 7.2 L9.4 10 V7.8 H6.8 Z" fill="#5e5e5e"/></svg>
<div class="t b" style="left:104px;top:355.52px;">上海力进</div>
<div class="t b" style="left:266px;top:355.52px;">1 day</div>
<div class="t b" style="left:319.4px;top:355.52px;">2019年4月25日</div>
<div class="t b" style="left:405.2px;top:355.52px;">2019年4月25日</div>
<div class="id" style="top:366.55px;">23</div>
<svg class="a" style="left:52.3px;top:368.55px;" width="12" height="12" viewBox="0 0 12 12"><path d="M7.2 0.6 L11.2 4.6 L9.8 5 L7.6 7.4 L7.4 9.6 L2.4 4.4 L4.6 4.4 L6.8 2.2 Z" fill="#38b9b2"/><path d="M4.6 7.2 L1 11" stroke="#38b9b2" stroke-width="1.2"/></svg>
<div class="t b" style="left:92.5px;top:367.75px;">样板区施工进度计划</div>
<div class="t b" style="left:266px;top:367.75px;">52 days</div>
<div class="t b" style="left:319.4px;top:367.75px;">2019年3月11日</div>
<div class="t b" style="left:405.2px;top:367.75px;">2019年5月1日</div>
<div class="id" style="top:378.78px;">24</div>
<svg class="a" style="left:52.8px;top:381.88px;" width="13" height="10" viewBox="0 0 13 10"><path d="M0.3 0.8 H10.6 V4 H8 L7 5.8 H0.3 Z" fill="#3f7cc4"/><path d="M6.8 6.6 H9.4 V4.3 L12.6 7.2 L9.4 10 V7.8 H6.8 Z" fill="#5e5e5e"/></svg>
<div class="t b" style="left:104px;top:379.98px;">顶面工程</div>
<div class="t b" style="left:266px;top:379.98px;">51 days</div>
<div class="t b" style="left:319.4px;top:379.98px;">2019年3月11日</div>
<div class="t b" style="left:405.2px;top:379.98px;">2019年4月30日</div>
<div class="id" style="top:391.01px;">25</div>
<svg class="a" style="left:36.8px;top:392.31px;" width="12.4" height="11.4" viewBox="0 0 12.4 11.4" preserveAspectRatio="none"><rect x="0.6" y="1.5" width="11" height="9.3" fill="#eef6fc" stroke="#3a3a3a" stroke-width="0.95"/><rect x="2.4" y="0" width="1.1" height="2" fill="#3a3a3a"/><rect x="9" y="0" width="1.1" height="2" fill="#3a3a3a"/><rect x="4.6" y="4.3" width="1.1" height="1.1" fill="#334"/><rect x="6.5" y="4.3" width="1.1" height="1.1" fill="#334"/><rect x="8.4" y="4.3" width="1.1" height="1.1" fill="#334"/><rect x="2.2" y="6.2" width="2.6" height="2.8" fill="#8fc0e6"/><rect x="5.4" y="6.2" width="3" height="2.8" fill="#4a8fd0"/></svg>
<svg class="a" style="left:52.8px;top:394.11px;" width="13" height="10" viewBox="0 0 13 10"><path d="M0.3 0.8 H10.6 V4 H8 L7 5.8 H0.3 Z" fill="#3f7cc4"/><path d="M6.8 6.6 H9.4 V4.3 L12.6 7.2 L9.4 10 V7.8 H6.8 Z" fill="#5e5e5e"/></svg>
<div class="t" style="left:115.7px;top:392.21px;">顶面基层安装</div>
<div class="t" style="left:266px;top:392.21px;">20 days</div>
<div class="t" style="left:319.4px;top:392.21px;">2019年3月11日</div>
<div class="t" style="left:405.2px;top:392.21px;">2019年3月30日</div>
<div class="t" style="left:509.4px;top:392.21px;">11</div>
<div class="id" style="top:403.24px;">26</div>
<svg class="a" style="left:36.8px;top:404.54px;" width="12.4" height="11.4" viewBox="0 0 12.4 11.4" preserveAspectRatio="none"><rect x="0.6" y="1.5" width="11" height="9.3" fill="#eef6fc" stroke="#3a3a3a" stroke-width="0.95"/><rect x="2.4" y="0" width="1.1" height="2" fill="#3a3a3a"/><rect x="9" y="0" width="1.1" height="2" fill="#3a3a3a"/><rect x="4.6" y="4.3" width="1.1" height="1.1" fill="#334"/><rect x="6.5" y="4.3" width="1.1" height="1.1" fill="#334"/><rect x="8.4" y="4.3" width="1.1" height="1.1" fill="#334"/><rect x="2.2" y="6.2" width="2.6" height="2.8" fill="#8fc0e6"/><rect x="5.4" y="6.2" width="3" height="2.8" fill="#4a8fd0"/></svg>
<svg class="a" style="left:52.8px;top:406.34px;" width="13" height="10" viewBox="0 0 13 10"><path d="M0.3 0.8 H10.6 V4 H8 L7 5.8 H0.3 Z" fill="#3f7cc4"/><path d="M6.8 6.6 H9.4 V4.3 L12.6 7.2 L9.4 10 V7.8 H6.8 Z" fill="#5e5e5e"/></svg>
<div class="t" style="left:115.7px;top:404.44px;">顶面封板</div>
<div class="t" style="left:266px;top:404.44px;">10 days</div>
<div class="t" style="left:319.4px;top:404.44px;">2019年3月31日</div>
<div class="t" style="left:405.2px;top:404.44px;">2019年4月9日</div>
<div class="t" style="left:509.4px;top:404.44px;">25</div>
<div class="id" style="top:415.46px;">27</div>
<svg class="a" style="left:36.8px;top:416.76px;" width="12.4" height="11.4" viewBox="0 0 12.4 11.4" preserveAspectRatio="none"><rect x="0.6" y="1.5" width="11" height="9.3" fill="#eef6fc" stroke="#3a3a3a" stroke-width="0.95"/><rect x="2.4" y="0" width="1.1" height="2" fill="#3a3a3a"/><rect x="9" y="0" width="1.1" height="2" fill="#3a3a3a"/><rect x="4.6" y="4.3" width="1.1" height="1.1" fill="#334"/><rect x="6.5" y="4.3" width="1.1" height="1.1" fill="#334"/><rect x="8.4" y="4.3" width="1.1" height="1.1" fill="#334"/><rect x="2.2" y="6.2" width="2.6" height="2.8" fill="#8fc0e6"/><rect x="5.4" y="6.2" width="3" height="2.8" fill="#4a8fd0"/></svg>
<svg class="a" style="left:52.8px;top:418.56px;" width="13" height="10" viewBox="0 0 13 10"><path d="M0.3 0.8 H10.6 V4 H8 L7 5.8 H0.3 Z" fill="#3f7cc4"/><path d="M6.8 6.6 H9.4 V4.3 L12.6 7.2 L9.4 10 V7.8 H6.8 Z" fill="#5e5e5e"/></svg>
<div class="t" style="left:115.7px;top:416.66px;">面漆施工</div>
<div class="t" style="left:266px;top:416.66px;">15 days</div>
<div class="t" style="left:319.4px;top:416.66px;">2019年4月3日</div>
<div class="t" style="left:405.2px;top:416.66px;">2019年4月17日</div>
<div class="id" style="top:427.69px;">28</div>
<svg class="a" style="left:36.8px;top:428.99px;" width="12.4" height="11.4" viewBox="0 0 12.4 11.4" preserveAspectRatio="none"><rect x="0.6" y="1.5" width="11" height="9.3" fill="#eef6fc" stroke="#3a3a3a" stroke-width="0.95"/><rect x="2.4" y="0" width="1.1" height="2" fill="#3a3a3a"/><rect x="9" y="0" width="1.1" height="2" fill="#3a3a3a"/><rect x="4.6" y="4.3" width="1.1" height="1.1" fill="#334"/><rect x="6.5" y="4.3" width="1.1" height="1.1" fill="#334"/><rect x="8.4" y="4.3" width="1.1" height="1.1" fill="#334"/><rect x="2.2" y="6.2" width="2.6" height="2.8" fill="#8fc0e6"/><rect x="5.4" y="6.2" width="3" height="2.8" fill="#4a8fd0"/></svg>
<svg class="a" style="left:52.8px;top:430.79px;" width="13" height="10" viewBox="0 0 13 10"><path d="M0.3 0.8 H10.6 V4 H8 L7 5.8 H0.3 Z" fill="#3f7cc4"/><path d="M6.8 6.6 H9.4 V4.3 L12.6 7.2 L9.4 10 V7.8 H6.8 Z" fill="#5e5e5e"/></svg>
<div class="t" style="left:115.7px;top:428.89px;">顶面面层安装</div>
<div class="t" style="left:266px;top:428.89px;">30 days</div>
<div class="t" style="left:319.4px;top:428.89px;">2019年4月1日</div>
<div class="t" style="left:405.2px;top:428.89px;">2019年4月30日</div>
<div class="id" style="top:439.92px;">29</div>
<svg class="a" style="left:52.8px;top:443.02px;" width="13" height="10" viewBox="0 0 13 10"><path d="M0.3 0.8 H10.6 V4 H8 L7 5.8 H0.3 Z" fill="#3f7cc4"/><path d="M6.8 6.6 H9.4 V4.3 L12.6 7.2 L9.4 10 V7.8 H6.8 Z" fill="#5e5e5e"/></svg>
<div class="t b" style="left:104px;top:441.12px;">墙面工程</div>
<div class="t b" style="left:266px;top:441.12px;">52 days</div>
<div class="t b" style="left:319.4px;top:441.12px;">2019年3月11日</div>
<div class="t b" style="left:405.2px;top:441.12px;">2019年5月1日</div>
<div class="id" style="top:452.15px;">30</div>
<svg class="a" style="left:36.8px;top:453.45px;" width="12.4" height="11.4" viewBox="0 0 12.4 11.4" preserveAspectRatio="none"><rect x="0.6" y="1.5" width="11" height="9.3" fill="#eef6fc" stroke="#3a3a3a" stroke-width="0.95"/><rect x="2.4" y="0" width="1.1" height="2" fill="#3a3a3a"/><rect x="9" y="0" width="1.1" height="2" fill="#3a3a3a"/><rect x="4.6" y="4.3" width="1.1" height="1.1" fill="#334"/><rect x="6.5" y="4.3" width="1.1" height="1.1" fill="#334"/><rect x="8.4" y="4.3" width="1.1" height="1.1" fill="#334"/><rect x="2.2" y="6.2" width="2.6" height="2.8" fill="#8fc0e6"/><rect x="5.4" y="6.2" width="3" height="2.8" fill="#4a8fd0"/></svg>
<svg class="a" style="left:52.8px;top:455.25px;" width="13" height="10" viewBox="0 0 13 10"><path d="M0.3 0.8 H10.6 V4 H8 L7 5.8 H0.3 Z" fill="#3f7cc4"/><path d="M6.8 6.6 H9.4 V4.3 L12.6 7.2 L9.4 10 V7.8 H6.8 Z" fill="#5e5e5e"/></svg>
<div class="t" style="left:115.7px;top:453.35px;">墙面抹灰</div>
<div class="t" style="left:266px;top:453.35px;">10 days</div>
<div class="t" style="left:319.4px;top:453.35px;">2019年3月11日</div>
<div class="t" style="left:405.2px;top:453.35px;">2019年3月20日</div>
<div class="t" style="left:509.4px;top:453.35px;">11</div>
<div class="id" style="top:464.38px;">31</div>
<svg class="a" style="left:36.8px;top:465.68px;" width="12.4" height="11.4" viewBox="0 0 12.4 11.4" preserveAspectRatio="none"><rect x="0.6" y="1.5" width="11" height="9.3" fill="#eef6fc" stroke="#3a3a3a" stroke-width="0.95"/><rect x="2.4" y="0" width="1.1" height="2" fill="#3a3a3a"/><rect x="9" y="0" width="1.1" height="2" fill="#3a3a3a"/><rect x="4.6" y="4.3" width="1.1" height="1.1" fill="#334"/><rect x="6.5" y="4.3" width="1.1" height="1.1" fill="#334"/><rect x="8.4" y="4.3" width="1.1" height="1.1" fill="#334"/><rect x="2.2" y="6.2" width="2.6" height="2.8" fill="#8fc0e6"/><rect x="5.4" y="6.2" width="3" height="2.8" fill="#4a8fd0"/></svg>
<svg class="a" style="left:52.8px;top:467.48px;" width="13" height="10" viewBox="0 0 13 10"><path d="M0.3 0.8 H10.6 V4 H8 L7 5.8 H0.3 Z" fill="#3f7cc4"/><path d="M6.8 6.6 H9.4 V4.3 L12.6 7.2 L9.4 10 V7.8 H6.8 Z" fill="#5e5e5e"/></svg>
<div class="t" style="left:115.7px;top:465.58px;">墙面基层施工</div>
<div class="t" style="left:266px;top:465.58px;">20 days</div>
<div class="t" style="left:319.4px;top:465.58px;">2019年3月21日</div>
<div class="t" style="left:405.2px;top:465.58px;">2019年4月9日</div>
<div class="t" style="left:509.4px;top:465.58px;">30</div>
<div class="id" style="top:476.61px;">32</div>
<svg class="a" style="left:36.8px;top:477.91px;" width="12.4" height="11.4" viewBox="0 0 12.4 11.4" preserveAspectRatio="none"><rect x="0.6" y="1.5" width="11" height="9.3" fill="#eef6fc" stroke="#3a3a3a" stroke-width="0.95"/><rect x="2.4" y="0" width="1.1" height="2" fill="#3a3a3a"/><rect x="9" y="0" width="1.1" height="2" fill="#3a3a3a"/><rect x="4.6" y="4.3" width="1.1" height="1.1" fill="#334"/><rect x="6.5" y="4.3" width="1.1" height="1.1" fill="#334"/><rect x="8.4" y="4.3" width="1.1" height="1.1" fill="#334"/><rect x="2.2" y="6.2" width="2.6" height="2.8" fill="#8fc0e6"/><rect x="5.4" y="6.2" width="3" height="2.8" fill="#4a8fd0"/></svg>
<svg class="a" style="left:52.8px;top:479.71px;" width="13" height="10" viewBox="0 0 13 10"><path d="M0.3 0.8 H10.6 V4 H8 L7 5.8 H0.3 Z" fill="#3f7cc4"/><path d="M6.8 6.6 H9.4 V4.3 L12.6 7.2 L9.4 10 V7.8 H6.8 Z" fill="#5e5e5e"/></svg>
<div class="t" style="left:115.7px;top:477.81px;">墙面封板</div>
<div class="t" style="left:266px;top:477.81px;">15 days</div>
<div class="t" style="left:319.4px;top:477.81px;">2019年4月10日</div>
<div class="t" style="left:405.2px;top:477.81px;">2019年4月24日</div>
<div class="t" style="left:509.4px;top:477.81px;">31</div>
<div class="id" style="top:488.84px;">33</div>
<svg class="a" style="left:36.8px;top:490.14px;" width="12.4" height="11.4" viewBox="0 0 12.4 11.4" preserveAspectRatio="none"><rect x="0.6" y="1.5" width="11" height="9.3" fill="#eef6fc" stroke="#3a3a3a" stroke-width="0.95"/><rect x="2.4" y="0" width="1.1" height="2" fill="#3a3a3a"/><rect x="9" y="0" width="1.1" height="2" fill="#3a3a3a"/><rect x="4.6" y="4.3" width="1.1" height="1.1" fill="#334"/><rect x="6.5" y="4.3" width="1.1" height="1.1" fill="#334"/><rect x="8.4" y="4.3" width="1.1" height="1.1" fill="#334"/><rect x="2.2" y="6.2" width="2.6" height="2.8" fill="#8fc0e6"/><rect x="5.4" y="6.2" width="3" height="2.8" fill="#4a8fd0"/></svg>
<svg class="a" style="left:52.8px;top:491.94px;" width="13" height="10" viewBox="0 0 13 10"><path d="M0.3 0.8 H10.6 V4 H8 L7 5.8 H0.3 Z" fill="#3f7cc4"/><path d="M6.8 6.6 H9.4 V4.3 L12.6 7.2 L9.4 10 V7.8 H6.8 Z" fill="#5e5e5e"/></svg>
<div class="t" style="left:115.7px;top:490.04px;">墙面面漆</div>
<div class="t" style="left:266px;top:490.04px;">15 days</div>
<div class="t" style="left:319.4px;top:490.04px;">2019年4月2日</div>
<div class="t" style="left:405.2px;top:490.04px;">2019年4月16日</div>
<div class="t" style="left:509.4px;top:490.04px;">32FS-23 days</div>
<div class="id" style="top:501.07px;">34</div>
<svg class="a" style="left:36.8px;top:502.37px;" width="12.4" height="11.4" viewBox="0 0 12.4 11.4" preserveAspectRatio="none"><rect x="0.6" y="1.5" width="11" height="9.3" fill="#eef6fc" stroke="#3a3a3a" stroke-width="0.95"/><rect x="2.4" y="0" width="1.1" height="2" fill="#3a3a3a"/><rect x="9" y="0" width="1.1" height="2" fill="#3a3a3a"/><rect x="4.6" y="4.3" width="1.1" height="1.1" fill="#334"/><rect x="6.5" y="4.3" width="1.1" height="1.1" fill="#334"/><rect x="8.4" y="4.3" width="1.1" height="1.1" fill="#334"/><rect x="2.2" y="6.2" width="2.6" height="2.8" fill="#8fc0e6"/><rect x="5.4" y="6.2" width="3" height="2.8" fill="#4a8fd0"/></svg>
<svg class="a" style="left:52.8px;top:504.17px;" width="13" height="10" viewBox="0 0 13 10"><path d="M0.3 0.8 H10.6 V4 H8 L7 5.8 H0.3 Z" fill="#3f7cc4"/><path d="M6.8 6.6 H9.4 V4.3 L12.6 7.2 L9.4 10 V7.8 H6.8 Z" fill="#5e5e5e"/></svg>
<div class="t" style="left:115.7px;top:502.27px;">饰面安装</div>
<div class="t" style="left:266px;top:502.27px;">30 days</div>
<div class="t" style="left:319.4px;top:502.27px;">2019年4月2日</div>
<div class="t" style="left:405.2px;top:502.27px;">2019年5月1日</div>
<div class="t" style="left:509.4px;top:502.27px;">33FS-15 days</div>
<div class="id" style="top:513.30px;">35</div>
<svg class="a" style="left:52.8px;top:516.40px;" width="13" height="10" viewBox="0 0 13 10"><path d="M0.3 0.8 H10.6 V4 H8 L7 5.8 H0.3 Z" fill="#3f7cc4"/><path d="M6.8 6.6 H9.4 V4.3 L12.6 7.2 L9.4 10 V7.8 H6.8 Z" fill="#5e5e5e"/></svg>
<div class="t b" style="left:104px;top:514.50px;">地面工程</div>
<div class="t b" style="left:266px;top:514.50px;">40 days</div>
<div class="t b" style="left:319.4px;top:514.50px;">2019年3月20日</div>
<div class="t b" style="left:405.2px;top:514.50px;">2019年4月28日</div>
<div class="id" style="top:525.53px;">36</div>
<svg class="a" style="left:36.8px;top:526.83px;" width="12.4" height="11.4" viewBox="0 0 12.4 11.4" preserveAspectRatio="none"><rect x="0.6" y="1.5" width="11" height="9.3" fill="#eef6fc" stroke="#3a3a3a" stroke-width="0.95"/><rect x="2.4" y="0" width="1.1" height="2" fill="#3a3a3a"/><rect x="9" y="0" width="1.1" height="2" fill="#3a3a3a"/><rect x="4.6" y="4.3" width="1.1" height="1.1" fill="#334"/><rect x="6.5" y="4.3" width="1.1" height="1.1" fill="#334"/><rect x="8.4" y="4.3" width="1.1" height="1.1" fill="#334"/><rect x="2.2" y="6.2" width="2.6" height="2.8" fill="#8fc0e6"/><rect x="5.4" y="6.2" width="3" height="2.8" fill="#4a8fd0"/></svg>
<svg class="a" style="left:52.8px;top:528.63px;" width="13" height="10" viewBox="0 0 13 10"><path d="M0.3 0.8 H10.6 V4 H8 L7 5.8 H0.3 Z" fill="#3f7cc4"/><path d="M6.8 6.6 H9.4 V4.3 L12.6 7.2 L9.4 10 V7.8 H6.8 Z" fill="#5e5e5e"/></svg>
<div class="t" style="left:115.7px;top:526.73px;">地面找平</div>
<div class="t" style="left:266px;top:526.73px;">20 days</div>
<div class="t" style="left:319.4px;top:526.73px;">2019年3月20日</div>
<div class="t" style="left:405.2px;top:526.73px;">2019年4月8日</div>
<div class="id" style="top:537.75px;">37</div>
<svg class="a" style="left:36.8px;top:539.05px;" width="12.4" height="11.4" viewBox="0 0 12.4 11.4" preserveAspectRatio="none"><rect x="0.6" y="1.5" width="11" height="9.3" fill="#eef6fc" stroke="#3a3a3a" stroke-width="0.95"/><rect x="2.4" y="0" width="1.1" height="2" fill="#3a3a3a"/><rect x="9" y="0" width="1.1" height="2" fill="#3a3a3a"/><rect x="4.6" y="4.3" width="1.1" height="1.1" fill="#334"/><rect x="6.5" y="4.3" width="1.1" height="1.1" fill="#334"/><rect x="8.4" y="4.3" width="1.1" height="1.1" fill="#334"/><rect x="2.2" y="6.2" width="2.6" height="2.8" fill="#8fc0e6"/><rect x="5.4" y="6.2" width="3" height="2.8" fill="#4a8fd0"/></svg>
<svg class="a" style="left:52.8px;top:540.85px;" width="13" height="10" viewBox="0 0 13 10"><path d="M0.3 0.8 H10.6 V4 H8 L7 5.8 H0.3 Z" fill="#3f7cc4"/><path d="M6.8 6.6 H9.4 V4.3 L12.6 7.2 L9.4 10 V7.8 H6.8 Z" fill="#5e5e5e"/></svg>
<div class="t" style="left:115.7px;top:538.95px;">地面铺装</div>
<div class="t" style="left:266px;top:538.95px;">20 days</div>
<div class="t" style="left:319.4px;top:538.95px;">2019年4月9日</div>
<div class="t" style="left:405.2px;top:538.95px;">2019年4月28日</div>
<div class="t" style="left:509.4px;top:538.95px;">36</div>
<div class="id" style="top:549.98px;">38</div>
<svg class="a" style="left:52.8px;top:553.08px;" width="13" height="10" viewBox="0 0 13 10"><path d="M0.3 0.8 H10.6 V4 H8 L7 5.8 H0.3 Z" fill="#3f7cc4"/><path d="M6.8 6.6 H9.4 V4.3 L12.6 7.2 L9.4 10 V7.8 H6.8 Z" fill="#5e5e5e"/></svg>
<div class="t b" style="left:92.5px;top:551.18px;">施工总进度计划</div>
<div class="t b" style="left:266px;top:551.18px;">222 days</div>
<div class="t b" style="left:319.4px;top:551.18px;">2019年2月22日</div>
<div class="t b" style="left:405.2px;top:551.18px;">2019年10月1日</div>
<div class="id" style="top:562.21px;">39</div>
<svg class="a" style="left:36.8px;top:563.51px;" width="12.4" height="11.4" viewBox="0 0 12.4 11.4" preserveAspectRatio="none"><rect x="0.6" y="1.5" width="11" height="9.3" fill="#eef6fc" stroke="#3a3a3a" stroke-width="0.95"/><rect x="2.4" y="0" width="1.1" height="2" fill="#3a3a3a"/><rect x="9" y="0" width="1.1" height="2" fill="#3a3a3a"/><rect x="4.6" y="4.3" width="1.1" height="1.1" fill="#334"/><rect x="6.5" y="4.3" width="1.1" height="1.1" fill="#334"/><rect x="8.4" y="4.3" width="1.1" height="1.1" fill="#334"/><rect x="2.2" y="6.2" width="2.6" height="2.8" fill="#8fc0e6"/><rect x="5.4" y="6.2" width="3" height="2.8" fill="#4a8fd0"/></svg>
<svg class="a" style="left:52.8px;top:565.31px;" width="13" height="10" viewBox="0 0 13 10"><path d="M0.3 0.8 H10.6 V4 H8 L7 5.8 H0.3 Z" fill="#3f7cc4"/><path d="M6.8 6.6 H9.4 V4.3 L12.6 7.2 L9.4 10 V7.8 H6.8 Z" fill="#5e5e5e"/></svg>
<div class="t" style="left:104px;top:563.41px;">整体方案报审确认（暂定）</div>
<div class="t" style="left:266px;top:563.41px;">15 days</div>
<div class="t" style="left:319.4px;top:563.41px;">2019年2月22日</div>
<div class="t" style="left:405.2px;top:563.41px;">2019年3月8日</div>
<div class="id" style="top:574.44px;">40</div>
<svg class="a" style="left:36.8px;top:575.74px;" width="12.4" height="11.4" viewBox="0 0 12.4 11.4" preserveAspectRatio="none"><rect x="0.6" y="1.5" width="11" height="9.3" fill="#eef6fc" stroke="#3a3a3a" stroke-width="0.95"/><rect x="2.4" y="0" width="1.1" height="2" fill="#3a3a3a"/><rect x="9" y="0" width="1.1" height="2" fill="#3a3a3a"/><rect x="4.6" y="4.3" width="1.1" height="1.1" fill="#334"/><rect x="6.5" y="4.3" width="1.1" height="1.1" fill="#334"/><rect x="8.4" y="4.3" width="1.1" height="1.1" fill="#334"/><rect x="2.2" y="6.2" width="2.6" height="2.8" fill="#8fc0e6"/><rect x="5.4" y="6.2" width="3" height="2.8" fill="#4a8fd0"/></svg>
<svg class="a" style="left:52.8px;top:577.54px;" width="13" height="10" viewBox="0 0 13 10"><path d="M0.3 0.8 H10.6 V4 H8 L7 5.8 H0.3 Z" fill="#3f7cc4"/><path d="M6.8 6.6 H9.4 V4.3 L12.6 7.2 L9.4 10 V7.8 H6.8 Z" fill="#5e5e5e"/></svg>
<div class="t" style="left:104px;top:575.64px;">整体施工图纸确认并下发</div>
<div class="t" style="left:266px;top:575.64px;">15 days</div>
<div class="t" style="left:319.4px;top:575.64px;">2019年3月9日</div>
<div class="t" style="left:405.2px;top:575.64px;">2019年3月23日</div>
<div class="t" style="left:509.4px;top:575.64px;">39</div>
<div class="id" style="top:586.67px;">41</div>
<svg class="a" style="left:36.8px;top:587.97px;" width="12.4" height="11.4" viewBox="0 0 12.4 11.4" preserveAspectRatio="none"><rect x="0.6" y="1.5" width="11" height="9.3" fill="#eef6fc" stroke="#3a3a3a" stroke-width="0.95"/><rect x="2.4" y="0" width="1.1" height="2" fill="#3a3a3a"/><rect x="9" y="0" width="1.1" height="2" fill="#3a3a3a"/><rect x="4.6" y="4.3" width="1.1" height="1.1" fill="#334"/><rect x="6.5" y="4.3" width="1.1" height="1.1" fill="#334"/><rect x="8.4" y="4.3" width="1.1" height="1.1" fill="#334"/><rect x="2.2" y="6.2" width="2.6" height="2.8" fill="#8fc0e6"/><rect x="5.4" y="6.2" width="3" height="2.8" fill="#4a8fd0"/></svg>
<svg class="a" style="left:52.8px;top:589.77px;" width="13" height="10" viewBox="0 0 13 10"><path d="M0.3 0.8 H10.6 V4 H8 L7 5.8 H0.3 Z" fill="#3f7cc4"/><path d="M6.8 6.6 H9.4 V4.3 L12.6 7.2 L9.4 10 V7.8 H6.8 Z" fill="#5e5e5e"/></svg>
<div class="t" style="left:104px;top:587.87px;">整体深化图纸确认</div>
<div class="t" style="left:266px;top:587.87px;">13 days</div>
<div class="t" style="left:319.4px;top:587.87px;">2019年4月18日</div>
<div class="t" style="left:405.2px;top:587.87px;">2019年4月30日</div>
<div class="t" style="left:509.4px;top:587.87px;">40</div>
<div class="id" style="top:598.90px;">42</div>
<svg class="a" style="left:36.8px;top:600.20px;" width="13.4" height="12.6" viewBox="0 0 12.4 12.6" preserveAspectRatio="none"><rect x="0.6" y="1.5" width="11" height="10.5" fill="#eef6fc" stroke="#3a3a3a" stroke-width="0.95"/><rect x="2.4" y="0" width="1.1" height="2" fill="#3a3a3a"/><rect x="9" y="0" width="1.1" height="2" fill="#3a3a3a"/><rect x="4.6" y="4.8" width="1.1" height="1.1" fill="#334"/><rect x="6.5" y="4.8" width="1.1" height="1.1" fill="#334"/><rect x="8.4" y="4.8" width="1.1" height="1.1" fill="#334"/><rect x="2.2" y="6.8" width="2.6" height="2.8" fill="#8fc0e6"/><rect x="5.4" y="6.8" width="3" height="2.8" fill="#4a8fd0"/></svg>
<svg class="a" style="left:52.8px;top:602.00px;" width="13" height="10" viewBox="0 0 13 10"><path d="M0.3 0.8 H10.6 V4 H8 L7 5.8 H0.3 Z" fill="#3f7cc4"/><path d="M6.8 6.6 H9.4 V4.3 L12.6 7.2 L9.4 10 V7.8 H6.8 Z" fill="#5e5e5e"/></svg>
<div class="t" style="left:104px;top:600.10px;">放线（水平线、轴线、主控线、<br>完成面线、造型线）</div>
<div class="t" style="left:266px;top:600.10px;">15 days</div>
<div class="t" style="left:319.4px;top:600.10px;">2019年5月1日</div>
<div class="t" style="left:405.2px;top:600.10px;">2019年5月15日</div>
<div class="t" style="left:509.4px;top:600.10px;">41</div>
<div class="id" style="top:623.70px;">43</div>
<svg class="a" style="left:52.8px;top:626.80px;" width="13" height="10" viewBox="0 0 13 10"><path d="M0.3 0.8 H10.6 V4 H8 L7 5.8 H0.3 Z" fill="#3f7cc4"/><path d="M6.8 6.6 H9.4 V4.3 L12.6 7.2 L9.4 10 V7.8 H6.8 Z" fill="#5e5e5e"/></svg>
<div class="t b" style="left:104px;top:624.90px;">四层教学楼</div>
<div class="t b" style="left:266px;top:624.90px;">207 days</div>
<div class="t b" style="left:319.4px;top:624.90px;">2019年3月6日</div>
<div class="t b" style="left:405.2px;top:624.90px;">2019年9月28日</div>
<div class="id" style="top:636.20px;">44</div>
<svg class="a" style="left:52.8px;top:639.30px;" width="13" height="10" viewBox="0 0 13 10"><path d="M0.3 0.8 H10.6 V4 H8 L7 5.8 H0.3 Z" fill="#3f7cc4"/><path d="M6.8 6.6 H9.4 V4.3 L12.6 7.2 L9.4 10 V7.8 H6.8 Z" fill="#5e5e5e"/></svg>
<div class="t b" style="left:115.7px;top:637.40px;">顶面工程</div>
<div class="t b" style="left:266px;top:637.40px;">117 days</div>
<div class="t b" style="left:319.4px;top:637.40px;">2019年5月16日</div>
<div class="t b" style="left:405.2px;top:637.40px;">2019年9月9日</div>
<div class="id" style="top:648.15px;">45</div>
<svg class="a" style="left:36.8px;top:649.45px;" width="13.4" height="12.6" viewBox="0 0 12.4 12.6" preserveAspectRatio="none"><rect x="0.6" y="1.5" width="11" height="10.5" fill="#eef6fc" stroke="#3a3a3a" stroke-width="0.95"/><rect x="2.4" y="0" width="1.1" height="2" fill="#3a3a3a"/><rect x="9" y="0" width="1.1" height="2" fill="#3a3a3a"/><rect x="4.6" y="4.8" width="1.1" height="1.1" fill="#334"/><rect x="6.5" y="4.8" width="1.1" height="1.1" fill="#334"/><rect x="8.4" y="4.8" width="1.1" height="1.1" fill="#334"/><rect x="2.2" y="6.8" width="2.6" height="2.8" fill="#8fc0e6"/><rect x="5.4" y="6.8" width="3" height="2.8" fill="#4a8fd0"/></svg>
<svg class="a" style="left:52.8px;top:651.25px;" width="13" height="10" viewBox="0 0 13 10"><path d="M0.3 0.8 H10.6 V4 H8 L7 5.8 H0.3 Z" fill="#3f7cc4"/><path d="M6.8 6.6 H9.4 V4.3 L12.6 7.2 L9.4 10 V7.8 H6.8 Z" fill="#5e5e5e"/></svg>
<div class="t" style="left:127px;top:649.35px;">顶面转换层基层、<span class="cn">GRG</span>基层</div>
<div class="t" style="left:127px;top:660.05px;">制作、吊杆安装、主次龙骨</div>
<div class="t" style="left:127px;top:672.25px;">安装</div>
<div class="t" style="left:266px;top:649.35px;">35 days</div>
<div class="t" style="left:319.4px;top:649.35px;">2019年5月16日</div>
<div class="t" style="left:405.2px;top:649.35px;">2019年6月19日</div>
<div class="id" style="top:686.20px;">46</div>
<svg class="a" style="left:36.8px;top:687.50px;" width="12.4" height="11.4" viewBox="0 0 12.4 11.4" preserveAspectRatio="none"><rect x="0.6" y="1.5" width="11" height="9.3" fill="#eef6fc" stroke="#3a3a3a" stroke-width="0.95"/><rect x="2.4" y="0" width="1.1" height="2" fill="#3a3a3a"/><rect x="9" y="0" width="1.1" height="2" fill="#3a3a3a"/><rect x="4.6" y="4.3" width="1.1" height="1.1" fill="#334"/><rect x="6.5" y="4.3" width="1.1" height="1.1" fill="#334"/><rect x="8.4" y="4.3" width="1.1" height="1.1" fill="#334"/><rect x="2.2" y="6.2" width="2.6" height="2.8" fill="#8fc0e6"/><rect x="5.4" y="6.2" width="3" height="2.8" fill="#4a8fd0"/></svg>
<svg class="a" style="left:52.8px;top:689.30px;" width="13" height="10" viewBox="0 0 13 10"><path d="M0.3 0.8 H10.6 V4 H8 L7 5.8 H0.3 Z" fill="#3f7cc4"/><path d="M6.8 6.6 H9.4 V4.3 L12.6 7.2 L9.4 10 V7.8 H6.8 Z" fill="#5e5e5e"/></svg>
<div class="t" style="left:127px;top:687.40px;">顶面封板</div>
<div class="t" style="left:266px;top:687.40px;">20 days</div>
<div class="t" style="left:319.4px;top:687.40px;">2019年6月20日</div>
<div class="t" style="left:405.2px;top:687.40px;">2019年7月9日</div>
<div class="t" style="left:509.4px;top:687.40px;">45</div>
<div class="id" style="top:698.70px;">47</div>
<svg class="a" style="left:36.8px;top:700.00px;" width="12.4" height="11.4" viewBox="0 0 12.4 11.4" preserveAspectRatio="none"><rect x="0.6" y="1.5" width="11" height="9.3" fill="#eef6fc" stroke="#3a3a3a" stroke-width="0.95"/><rect x="2.4" y="0" width="1.1" height="2" fill="#3a3a3a"/><rect x="9" y="0" width="1.1" height="2" fill="#3a3a3a"/><rect x="4.6" y="4.3" width="1.1" height="1.1" fill="#334"/><rect x="6.5" y="4.3" width="1.1" height="1.1" fill="#334"/><rect x="8.4" y="4.3" width="1.1" height="1.1" fill="#334"/><rect x="2.2" y="6.2" width="2.6" height="2.8" fill="#8fc0e6"/><rect x="5.4" y="6.2" width="3" height="2.8" fill="#4a8fd0"/></svg>
<svg class="a" style="left:52.8px;top:701.80px;" width="13" height="10" viewBox="0 0 13 10"><path d="M0.3 0.8 H10.6 V4 H8 L7 5.8 H0.3 Z" fill="#3f7cc4"/><path d="M6.8 6.6 H9.4 V4.3 L12.6 7.2 L9.4 10 V7.8 H6.8 Z" fill="#5e5e5e"/></svg>
<div class="t" style="left:127px;top:699.90px;">面漆施工</div>
<div class="t" style="left:266px;top:699.90px;">15 days</div>
<div class="t" style="left:319.4px;top:699.90px;">2019年7月27日</div>
<div class="t" style="left:405.2px;top:699.90px;">2019年8月10日</div>
<div class="t" style="left:509.4px;top:699.90px;">46</div>
<div class="id" style="top:710.90px;">48</div>
<svg class="a" style="left:36.8px;top:712.20px;" width="13.4" height="12.6" viewBox="0 0 12.4 12.6" preserveAspectRatio="none"><rect x="0.6" y="1.5" width="11" height="10.5" fill="#eef6fc" stroke="#3a3a3a" stroke-width="0.95"/><rect x="2.4" y="0" width="1.1" height="2" fill="#3a3a3a"/><rect x="9" y="0" width="1.1" height="2" fill="#3a3a3a"/><rect x="4.6" y="4.8" width="1.1" height="1.1" fill="#334"/><rect x="6.5" y="4.8" width="1.1" height="1.1" fill="#334"/><rect x="8.4" y="4.8" width="1.1" height="1.1" fill="#334"/><rect x="2.2" y="6.8" width="2.6" height="2.8" fill="#8fc0e6"/><rect x="5.4" y="6.8" width="3" height="2.8" fill="#4a8fd0"/></svg>
<svg class="a" style="left:52.8px;top:714.00px;" width="13" height="10" viewBox="0 0 13 10"><path d="M0.3 0.8 H10.6 V4 H8 L7 5.8 H0.3 Z" fill="#3f7cc4"/><path d="M6.8 6.6 H9.4 V4.3 L12.6 7.2 L9.4 10 V7.8 H6.8 Z" fill="#5e5e5e"/></svg>
<div class="t" style="left:127px;top:712.10px;">墙面、顶面木饰面、<span class="cn">GRG</span>到<br>场安装、走廊灯具到场安装</div>
<div class="t" style="left:266px;top:712.10px;">30 days</div>
<div class="t" style="left:319.4px;top:712.10px;">2019年8月11日</div>
<div class="t" style="left:405.2px;top:712.10px;">2019年9月9日</div>
<div class="t" style="left:509.4px;top:712.10px;">47</div>
<div class="id" style="top:748.70px;">49</div>
<svg class="a" style="left:52.3px;top:750.70px;" width="12" height="12" viewBox="0 0 12 12"><path d="M7.2 0.6 L11.2 4.6 L9.8 5 L7.6 7.4 L7.4 9.6 L2.4 4.4 L4.6 4.4 L6.8 2.2 Z" fill="#38b9b2"/><path d="M4.6 7.2 L1 11" stroke="#38b9b2" stroke-width="1.2"/></svg>
<div class="t b" style="left:115.7px;top:749.90px;">墙面工程</div>
<div class="t b" style="left:266px;top:749.90px;">128 days</div>
<div class="t b" style="left:319.4px;top:749.90px;">2019年5月15日</div>
<div class="t b" style="left:405.2px;top:749.90px;">2019年9月19日</div>
<svg class="a" style="left:0;top:0;" width="1198" height="845" viewBox="0 0 1198 845">
<rect x="1136" y="58.8" width="1" height="702.7" fill="#8a8a8a"/>
<rect x="742.2" y="61.0" width="395.1" height="3.1" fill="#4a4a4a"/>
<rect x="742.2" y="61.1" width="2.2" height="6.7" fill="#111"/>
<rect x="1135.0" y="61.1" width="2.2" height="6.7" fill="#111"/>
<rect x="749.2" y="73.3" width="179.3" height="3.1" fill="#4a4a4a"/>
<rect x="749.2" y="73.4" width="2.2" height="6.7" fill="#111"/>
<rect x="926.4" y="73.4" width="2.2" height="6.7" fill="#111"/>
<rect x="763.4" y="85.6" width="106.8" height="3.1" fill="#4a4a4a"/>
<rect x="763.4" y="85.7" width="2.2" height="6.7" fill="#111"/>
<rect x="868.0" y="85.7" width="2.2" height="6.7" fill="#111"/>
<rect x="770.5" y="222.6" width="39.6" height="3.1" fill="#4a4a4a"/>
<rect x="770.5" y="222.7" width="2.2" height="6.7" fill="#111"/>
<rect x="807.9" y="222.7" width="2.2" height="6.7" fill="#111"/>
<rect x="749.2" y="283.7" width="179.3" height="3.1" fill="#4a4a4a"/>
<rect x="749.2" y="283.8" width="2.2" height="6.7" fill="#111"/>
<rect x="926.4" y="283.8" width="2.2" height="6.7" fill="#111"/>
<rect x="772.2" y="381.6" width="92.7" height="3.1" fill="#4a4a4a"/>
<rect x="772.2" y="381.7" width="2.2" height="6.7" fill="#111"/>
<rect x="862.7" y="381.7" width="2.2" height="6.7" fill="#111"/>
<rect x="772.2" y="442.7" width="94.5" height="3.1" fill="#4a4a4a"/>
<rect x="772.2" y="442.8" width="2.2" height="6.7" fill="#111"/>
<rect x="864.5" y="442.8" width="2.2" height="6.7" fill="#111"/>
<rect x="788.1" y="516.1" width="73.2" height="3.1" fill="#4a4a4a"/>
<rect x="788.1" y="516.2" width="2.2" height="6.7" fill="#111"/>
<rect x="859.2" y="516.2" width="2.2" height="6.7" fill="#111"/>
<rect x="742.2" y="552.8" width="395.1" height="3.1" fill="#4a4a4a"/>
<rect x="742.2" y="552.9" width="2.2" height="6.7" fill="#111"/>
<rect x="1135.0" y="552.9" width="2.2" height="6.7" fill="#111"/>
<rect x="763.4" y="626.5" width="368.6" height="3.1" fill="#4a4a4a"/>
<rect x="763.4" y="626.6" width="2.2" height="6.7" fill="#111"/>
<rect x="1129.7" y="626.6" width="2.2" height="6.7" fill="#111"/>
<rect x="888.9" y="639.0" width="209.4" height="3.1" fill="#4a4a4a"/>
<rect x="888.9" y="639.1" width="2.2" height="6.7" fill="#111"/>
<rect x="1096.1" y="639.1" width="2.2" height="6.7" fill="#111"/>
<rect x="764.5" y="97.9" width="2.5" height="7.0" fill="#82b3e8"/>
<rect x="780.4" y="110.2" width="2.5" height="7.0" fill="#82b3e8"/>
<rect x="803.4" y="122.5" width="2.5" height="7.0" fill="#82b3e8"/>
<rect x="831.7" y="147.6" width="2.5" height="7.0" fill="#82b3e8"/>
<rect x="849.4" y="172.6" width="2.5" height="7.0" fill="#82b3e8"/>
<rect x="867.0" y="197.7" width="2.5" height="7.0" fill="#82b3e8"/>
<rect x="771.6" y="234.9" width="2.5" height="7.0" fill="#82b3e8"/>
<rect x="771.6" y="247.2" width="2.5" height="7.0" fill="#82b3e8"/>
<rect x="789.2" y="259.4" width="2.5" height="7.0" fill="#82b3e8"/>
<rect x="806.9" y="271.6" width="2.5" height="7.0" fill="#82b3e8"/>
<rect x="750.3" y="296.1" width="2.5" height="7.0" fill="#82b3e8"/>
<rect x="808.7" y="308.3" width="2.5" height="7.0" fill="#82b3e8"/>
<rect x="844.1" y="320.5" width="2.5" height="7.0" fill="#82b3e8"/>
<rect x="925.4" y="345.0" width="2.5" height="7.0" fill="#82b3e8"/>
<rect x="773.3" y="393.9" width="35.4" height="7.0" fill="#82b3e8"/>
<rect x="808.7" y="406.1" width="17.7" height="7.0" fill="#82b3e8"/>
<rect x="814.0" y="418.4" width="26.5" height="7.0" fill="#82b3e8"/>
<rect x="810.5" y="430.6" width="53.1" height="7.0" fill="#82b3e8"/>
<rect x="773.3" y="455.1" width="17.7" height="7.0" fill="#82b3e8"/>
<rect x="791.0" y="467.3" width="35.4" height="7.0" fill="#82b3e8"/>
<rect x="826.4" y="479.5" width="26.5" height="7.0" fill="#82b3e8"/>
<rect x="812.2" y="491.7" width="26.5" height="7.0" fill="#82b3e8"/>
<rect x="812.2" y="504.0" width="53.1" height="7.0" fill="#82b3e8"/>
<rect x="789.2" y="528.4" width="35.4" height="7.0" fill="#82b3e8"/>
<rect x="824.6" y="540.7" width="35.4" height="7.0" fill="#82b3e8"/>
<rect x="743.3" y="565.1" width="26.5" height="7.0" fill="#82b3e8"/>
<rect x="769.8" y="577.3" width="26.5" height="7.0" fill="#82b3e8"/>
<rect x="840.5" y="589.6" width="23.0" height="7.0" fill="#82b3e8"/>
<rect x="863.5" y="601.8" width="26.5" height="7.0" fill="#82b3e8"/>
<rect x="890.0" y="651.0" width="61.9" height="7.0" fill="#82b3e8"/>
<rect x="951.9" y="689.1" width="35.4" height="7.0" fill="#82b3e8"/>
<rect x="1017.4" y="701.6" width="26.5" height="7.0" fill="#82b3e8"/>
<rect x="1043.9" y="713.8" width="53.1" height="7.0" fill="#82b3e8"/>
<rect x="843.2" y="332.3" width="3.5" height="7.3" fill="#2e8d96"/>
<rect x="851.9" y="357.0" width="3.6" height="7.2" fill="#111"/>
<rect x="772.2" y="368.8" width="94" height="3.0" fill="#4a4a4a"/>
<rect x="772.2" y="371.7" width="94" height="4.5" fill="#2f9aa0"/>
<rect x="772.2" y="368.9" width="2.4" height="7.3" fill="#111"/>
<rect x="863.8" y="368.9" width="2.4" height="7.3" fill="#111"/>
<rect x="763.8" y="754.6" width="288.1" height="4.7" fill="#2f9aa0"/>
<rect x="887.3" y="751.9" width="228.4" height="2.9" fill="#4a4a4a"/>
<rect x="887.3" y="751.9" width="2.6" height="7.4" fill="#111"/>
<rect x="1113.4" y="751.9" width="2.3" height="7.2" fill="#111"/>
<path d="M766.5 101.4 H971.6 Q974.1 101.4 974.1 103.9 V761.5" fill="none" stroke="#5985ba" stroke-width="1.15"/>
<path d="M773.8 101.4 V761.5" fill="none" stroke="#5985ba" stroke-width="1.15"/>
<path d="M782.6 113.7 H787.6 Q790.1 113.7 790.1 116.2 V761.5" fill="none" stroke="#5985ba" stroke-width="1"/>
<path d="M806 126.0 H810.5 Q813.0 126.0 813.0 128.5 V761.5" fill="none" stroke="#3f7fd0" stroke-width="1.7"/>
<path d="M834 151.1 H839.0 Q841.5 151.1 841.5 153.6 V761.5" fill="none" stroke="#5985ba" stroke-width="1"/>
<path d="M851.8 176.1 H856.6 Q859.1 176.1 859.1 178.6 V761.5" fill="none" stroke="#7f9fd0" stroke-width="1.3"/>
<path d="M869.5 201.2 H874.1 Q876.6 201.2 876.6 203.7 V761.5" fill="none" stroke="#5985ba" stroke-width="1"/>
<path d="M773.7 238.4 H774.8 Q777.3 238.4 777.3 240.9 V451.8" fill="none" stroke="#5985ba" stroke-width="1.15"/>
<path d="M772.8 389.3 H781.8 L777.3 393.9 Z" fill="#3a78c8"/>
<path d="M772.8 450.5 H781.8 L777.3 455.1 Z" fill="#3a78c8"/>
<path d="M808.7 397.4 H810.3 Q812.8 397.4 812.8 399.9 V403.1" fill="none" stroke="#3a78c8" stroke-width="1.1"/>
<path d="M808.3 401.5 H817.3 L812.8 406.1 Z" fill="#3a78c8"/>
<path d="M791.0 458.6 H792.7 Q795.2 458.6 795.2 461.1 V464.3" fill="none" stroke="#3a78c8" stroke-width="1.1"/>
<path d="M790.7 462.7 H799.7 L795.2 467.3 Z" fill="#3a78c8"/>
<path d="M826.4 470.8 H827.6 Q830.1 470.8 830.1 473.3 V476.5" fill="none" stroke="#3a78c8" stroke-width="1.1"/>
<path d="M825.6 474.9 H834.6 L830.1 479.5 Z" fill="#3a78c8"/>
<path d="M824.6 531.9 H826.2 Q828.7 531.9 828.7 534.4 V537.7" fill="none" stroke="#3a78c8" stroke-width="1.1"/>
<path d="M824.2 536.1 H833.2 L828.7 540.7 Z" fill="#3a78c8"/>
<path d="M769.8 568.6 H771.2 Q773.7 568.6 773.7 571.1 V574.3" fill="none" stroke="#3a78c8" stroke-width="1.1"/>
<path d="M769.2 572.7 H778.2 L773.7 577.3 Z" fill="#3a78c8"/>
<path d="M796.3 580.8 H838.9 Q841.4 580.8 841.4 583.3 V586.6" fill="none" stroke="#3a78c8" stroke-width="1.1"/>
<path d="M836.9 585.0 H845.9 L841.4 589.6 Z" fill="#3a78c8"/>
<path d="M863.5 593.1 H865.0 Q867.5 593.1 867.5 595.6 V598.8" fill="none" stroke="#3a78c8" stroke-width="1.1"/>
<path d="M863.0 597.2 H872.0 L867.5 601.8 Z" fill="#3a78c8"/>
<path d="M951.9 654.5 H953.5 Q956.0 654.5 956.0 657.0 V686.1" fill="none" stroke="#3a78c8" stroke-width="1.1"/>
<path d="M951.5 684.5 H960.5 L956.0 689.1 Z" fill="#3a78c8"/>
<path d="M987.3 692.6 H1015.3 Q1017.8 692.6 1017.8 695.1 V698.6" fill="none" stroke="#3a78c8" stroke-width="1.1"/>
<path d="M1013.3 697.0 H1022.3 L1017.8 701.6 Z" fill="#3a78c8"/>
<path d="M1043.9 705.1 H1045.5 Q1048.0 705.1 1048.0 707.6 V710.8" fill="none" stroke="#3a78c8" stroke-width="1.1"/>
<path d="M1043.5 709.2 H1052.5 L1048.0 713.8 Z" fill="#3a78c8"/>
<path d="M852.9 483.0 H854.9 Q857.4 483.0 857.4 485.5 V486.7 Q857.4 489.2 854.9 489.2 H807.1 Q804.6 489.2 804.6 491.7 V492.7 Q804.6 495.2 807.1 495.2 H809.2" fill="none" stroke="#3a78c8" stroke-width="1.1"/>
<path d="M807.4 490.8 V499.6 L812.2 495.2 Z" fill="#3a78c8"/>
<path d="M838.8 495.2 H840.4 Q842.9 495.2 842.9 497.7 V499.0 Q842.9 501.5 840.4 501.5 H807.1 Q804.6 501.5 804.6 504.0 V505.0 Q804.6 507.5 807.1 507.5 H809.2" fill="none" stroke="#3a78c8" stroke-width="1.1"/>
<path d="M807.4 503.1 V511.9 L812.2 507.5 Z" fill="#3a78c8"/>
</svg>
<svg class="a" style="left:0;top:0;" width="1198" height="845" viewBox="0 0 1198 845">
<rect x="224.3" y="771.3" width="74.5" height="7.2" fill="#86b8ea"/>
<rect x="224.6" y="789.3" width="0.9" height="4.6" fill="#6a9bcc"/>
<rect x="227.1" y="789.3" width="0.9" height="4.6" fill="#6a9bcc"/>
<rect x="229.6" y="789.3" width="0.9" height="4.6" fill="#6a9bcc"/>
<rect x="232.0" y="789.3" width="0.9" height="4.6" fill="#6a9bcc"/>
<rect x="234.5" y="789.3" width="0.9" height="4.6" fill="#6a9bcc"/>
<rect x="237.0" y="789.3" width="0.9" height="4.6" fill="#6a9bcc"/>
<rect x="239.5" y="789.3" width="0.9" height="4.6" fill="#6a9bcc"/>
<rect x="242.0" y="789.3" width="0.9" height="4.6" fill="#6a9bcc"/>
<rect x="244.4" y="789.3" width="0.9" height="4.6" fill="#6a9bcc"/>
<rect x="246.9" y="789.3" width="0.9" height="4.6" fill="#6a9bcc"/>
<rect x="249.4" y="789.3" width="0.9" height="4.6" fill="#6a9bcc"/>
<rect x="251.9" y="789.3" width="0.9" height="4.6" fill="#6a9bcc"/>
<rect x="254.4" y="789.3" width="0.9" height="4.6" fill="#6a9bcc"/>
<rect x="256.8" y="789.3" width="0.9" height="4.6" fill="#6a9bcc"/>
<rect x="259.3" y="789.3" width="0.9" height="4.6" fill="#6a9bcc"/>
<rect x="261.8" y="789.3" width="0.9" height="4.6" fill="#6a9bcc"/>
<rect x="264.3" y="789.3" width="0.9" height="4.6" fill="#6a9bcc"/>
<rect x="266.8" y="789.3" width="0.9" height="4.6" fill="#6a9bcc"/>
<rect x="269.2" y="789.3" width="0.9" height="4.6" fill="#6a9bcc"/>
<rect x="271.7" y="789.3" width="0.9" height="4.6" fill="#6a9bcc"/>
<rect x="274.2" y="789.3" width="0.9" height="4.6" fill="#6a9bcc"/>
<rect x="276.7" y="789.3" width="0.9" height="4.6" fill="#6a9bcc"/>
<rect x="279.2" y="789.3" width="0.9" height="4.6" fill="#6a9bcc"/>
<rect x="281.6" y="789.3" width="0.9" height="4.6" fill="#6a9bcc"/>
<rect x="284.1" y="789.3" width="0.9" height="4.6" fill="#6a9bcc"/>
<rect x="286.6" y="789.3" width="0.9" height="4.6" fill="#6a9bcc"/>
<rect x="289.1" y="789.3" width="0.9" height="4.6" fill="#6a9bcc"/>
<rect x="291.6" y="789.3" width="0.9" height="4.6" fill="#6a9bcc"/>
<rect x="294.0" y="789.3" width="0.9" height="4.6" fill="#6a9bcc"/>
<rect x="296.5" y="789.3" width="0.9" height="4.6" fill="#6a9bcc"/>
<path d="M228.2 801.4 L231.8 805 L228.2 808.6 L224.6 805 Z" fill="#444"/>
<rect x="370.6" y="771.3" width="69.6" height="2.8" fill="#4a4a4a"/><rect x="370.6" y="771.3" width="2.2" height="7.3" fill="#111"/><rect x="438" y="771.3" width="2.2" height="7.3" fill="#111"/>
<rect x="370.6" y="786" width="69.6" height="2.8" fill="#a8a8a8"/><rect x="370.6" y="786" width="2.2" height="7.3" fill="#777"/><rect x="438" y="786" width="2.2" height="7.3" fill="#777"/>
<rect x="368.8" y="801.3" width="73.7" height="6.8" fill="#c6c6c6"/>
<path d="M516.8 771.6 L520.4 775.2 L516.8 778.8 L513.2 775.2 Z" fill="#c4c4c4" stroke="#6a6a6a" stroke-width="0.9"/>
<rect x="513.3" y="787" width="73.6" height="6.2" fill="#fff" stroke="#cfcfcf" stroke-width="0.9"/>
<path d="M516.8 801.6 L520.2 805 L516.8 808.4 L513.4 805 Z" fill="#ededed" stroke="#cdcdcd" stroke-width="0.9"/>
<rect x="659.5" y="771.3" width="69.3" height="2.7" fill="#d6d6d6"/><rect x="659.5" y="771.3" width="2.1" height="7.2" fill="#a6a6a6"/><rect x="726.7" y="771.3" width="2.1" height="7.2" fill="#a6a6a6"/>
<rect x="659.5" y="785.9" width="69.3" height="7.7" fill="#62c3cd"/><rect x="659.5" y="785.9" width="2.2" height="7.7" fill="#23808c"/><rect x="726.6" y="785.9" width="2.2" height="7.7" fill="#23808c"/>
<defs><linearGradient id="fd" x1="0" x2="1" y1="0" y2="0"><stop offset="0" stop-color="#62c3cd" stop-opacity="0.15"/><stop offset="0.1" stop-color="#62c3cd"/><stop offset="0.9" stop-color="#62c3cd"/><stop offset="1" stop-color="#62c3cd" stop-opacity="0.15"/></linearGradient></defs>
<rect x="658.5" y="801.3" width="72" height="6.8" fill="url(#fd)"/>
<rect x="801.8" y="774.4" width="73.2" height="3.2" fill="#2f9aa0"/>
<rect x="801.8" y="785.6" width="73.2" height="2.6" fill="#4a4a4a"/><rect x="801.8" y="785.6" width="2.2" height="7.4" fill="#111"/><rect x="872.8" y="785.6" width="2.2" height="7.4" fill="#111"/>
<path d="M805.2 801.7 H802.6 V808 H805.2" fill="none" stroke="#2a8a96" stroke-width="1.5"/>
<path d="M948 771.8 H951.6 V778 H948" fill="none" stroke="#2a8a96" stroke-width="1.5"/>
<path d="M947.6 787.5 L951.2 790.6 L947.6 793.7 Z" fill="#7fb83a"/>
<rect x="947.5" y="803.6" width="73" height="2.6" fill="#3a6fc8"/>
<rect x="1090.3" y="773.7" width="74" height="2.9" fill="#2f9aa0"/>
</svg>
<div class="lg" style="left:165.5px;top:770.2px;">任务</div>
<div class="lg" style="left:165.5px;top:785.6px;">拆分</div>
<div class="lg" style="left:165.5px;top:800.2px;">里程碑</div>
<div class="lg" style="left:309.3px;top:770.2px;">摘要</div>
<div class="lg" style="left:309.3px;top:785.6px;">项目摘要</div>
<div class="lg" style="left:309.3px;top:800.2px;">外部任务</div>
<div class="lg" style="left:453.8px;top:770.2px;">外部里程碑</div>
<div class="lg" style="left:453.8px;top:785.6px;">非活动任务</div>
<div class="lg" style="left:453.8px;top:800.2px;">非活动里程碑</div>
<div class="lg" style="left:597.5px;top:770.2px;">非活动摘要</div>
<div class="lg" style="left:597.5px;top:785.6px;">手动任务</div>
<div class="lg" style="left:597.5px;top:800.2px;">仅工期</div>
<div class="lg" style="left:743px;top:770.2px;">手动摘要总成</div>
<div class="lg" style="left:743px;top:785.6px;">手动摘要</div>
<div class="lg" style="left:743px;top:800.2px;">仅开始时间</div>
<div class="lg" style="left:886.8px;top:770.2px;">仅完成时间</div>
<div class="lg" style="left:886.8px;top:785.6px;">期限</div>
<div class="lg" style="left:886.8px;top:800.2px;">进度</div>
<div class="lg" style="left:1030.6px;top:770.2px;">手动进度</div>
<div class="a" style="left:755.5px;top:774.3px;white-space:nowrap;font-family:'Liberation Sans',sans-serif;font-size:35.4px;line-height:44px;color:#fff;-webkit-text-stroke:0.5px #fff;text-shadow:1.2px 1.2px 1.2px rgba(70,70,70,0.9);letter-spacing:0px;">知乎 @建筑DIOR丝风向标</div>
<div class="lg" style="left:11.5px;top:775.8px;line-height:12.2px;word-spacing:3.2px;letter-spacing:0.35px;">项目: msproj11<br>日期: 2022年8月17日</div>
<div class="lg" style="left:0;width:1196px;text-align:center;top:821px;">第 1 页</div>
</body></html>
